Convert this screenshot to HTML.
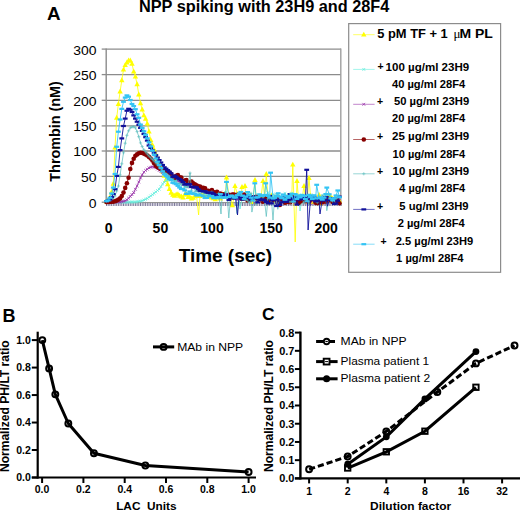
<!DOCTYPE html>
<html><head><meta charset="utf-8"><style>
html,body{margin:0;padding:0;background:#fff;}
svg{display:block;font-family:"Liberation Sans", sans-serif;}
</style></head><body>
<svg width="520" height="511" viewBox="0 0 520 511">
<rect width="520" height="511" fill="#fff"/>
<text x="47.00" y="19.80" font-size="18" font-weight="bold" text-anchor="start" fill="#000" textLength="13.60" lengthAdjust="spacingAndGlyphs" >A</text>
<text x="139.00" y="11.60" font-size="16" font-weight="bold" text-anchor="start" fill="#000" textLength="250.30" lengthAdjust="spacingAndGlyphs" >NPP spiking with 23H9 and 28F4</text>
<line x1="106.00" y1="49.10" x2="341.00" y2="49.10" stroke="#8c8c8c" stroke-width="1.3" />
<line x1="101.70" y1="49.10" x2="106.00" y2="49.10" stroke="#8c8c8c" stroke-width="1.3" />
<text x="96.60" y="54.50" font-size="13.5" font-weight="normal" text-anchor="end" fill="#000" textLength="23.25" lengthAdjust="spacingAndGlyphs" >300</text>
<line x1="106.00" y1="74.60" x2="341.00" y2="74.60" stroke="#8c8c8c" stroke-width="1.3" />
<line x1="101.70" y1="74.60" x2="106.00" y2="74.60" stroke="#8c8c8c" stroke-width="1.3" />
<text x="96.60" y="80.00" font-size="13.5" font-weight="normal" text-anchor="end" fill="#000" textLength="23.25" lengthAdjust="spacingAndGlyphs" >250</text>
<line x1="106.00" y1="100.30" x2="341.00" y2="100.30" stroke="#8c8c8c" stroke-width="1.3" />
<line x1="101.70" y1="100.30" x2="106.00" y2="100.30" stroke="#8c8c8c" stroke-width="1.3" />
<text x="96.60" y="105.70" font-size="13.5" font-weight="normal" text-anchor="end" fill="#000" textLength="23.25" lengthAdjust="spacingAndGlyphs" >200</text>
<line x1="106.00" y1="125.90" x2="341.00" y2="125.90" stroke="#8c8c8c" stroke-width="1.3" />
<line x1="101.70" y1="125.90" x2="106.00" y2="125.90" stroke="#8c8c8c" stroke-width="1.3" />
<text x="96.60" y="131.30" font-size="13.5" font-weight="normal" text-anchor="end" fill="#000" textLength="23.25" lengthAdjust="spacingAndGlyphs" >150</text>
<line x1="106.00" y1="151.00" x2="341.00" y2="151.00" stroke="#8c8c8c" stroke-width="1.3" />
<line x1="101.70" y1="151.00" x2="106.00" y2="151.00" stroke="#8c8c8c" stroke-width="1.3" />
<text x="96.60" y="156.40" font-size="13.5" font-weight="normal" text-anchor="end" fill="#000" textLength="23.25" lengthAdjust="spacingAndGlyphs" >100</text>
<line x1="106.00" y1="176.40" x2="341.00" y2="176.40" stroke="#8c8c8c" stroke-width="1.3" />
<line x1="101.70" y1="176.40" x2="106.00" y2="176.40" stroke="#8c8c8c" stroke-width="1.3" />
<text x="96.60" y="181.80" font-size="13.5" font-weight="normal" text-anchor="end" fill="#000" textLength="15.50" lengthAdjust="spacingAndGlyphs" >50</text>
<line x1="101.70" y1="202.20" x2="106.00" y2="202.20" stroke="#8c8c8c" stroke-width="1.3" />
<text x="96.60" y="207.60" font-size="13.5" font-weight="normal" text-anchor="end" fill="#000" textLength="7.75" lengthAdjust="spacingAndGlyphs" >0</text>
<line x1="106.20" y1="48.40" x2="106.20" y2="203.50" stroke="#8c8c8c" stroke-width="1.4" />
<line x1="340.80" y1="48.40" x2="340.80" y2="205.80" stroke="#a0a0a0" stroke-width="1.4" />
<text x="60.00" y="131.40" font-size="14" font-weight="bold" text-anchor="middle" fill="#000" textLength="100.50" lengthAdjust="spacingAndGlyphs" transform="rotate(-90 60.00 131.40)" >Thrombin (nM)</text>
<text x="108.70" y="232.90" font-size="14" font-weight="bold" text-anchor="middle" fill="#000" >0</text>
<text x="160.40" y="232.90" font-size="14" font-weight="bold" text-anchor="middle" fill="#000" >50</text>
<text x="212.00" y="232.90" font-size="14" font-weight="bold" text-anchor="middle" fill="#000" >100</text>
<text x="271.20" y="232.90" font-size="14" font-weight="bold" text-anchor="middle" fill="#000" >150</text>
<text x="326.20" y="232.90" font-size="14" font-weight="bold" text-anchor="middle" fill="#000" >200</text>
<text x="225.40" y="261.60" font-size="17.5" font-weight="bold" text-anchor="middle" fill="#000" textLength="93.50" lengthAdjust="spacingAndGlyphs" >Time (sec)</text>
<path d="M106.5 202.6v3.4 M108.2 202.6v3.4 M109.9 202.6v3.4 M111.6 202.6v3.4 M113.3 202.6v3.4 M115.0 202.6v3.4 M116.7 202.6v3.4 M118.4 202.6v3.4 M120.1 202.6v3.4 M121.8 202.6v3.4 M123.5 202.6v3.4 M125.2 202.6v3.4 M126.9 202.6v3.4 M128.6 202.6v3.4 M130.3 202.6v3.4 M132.0 202.6v3.4 M133.7 202.6v3.4 M135.4 202.6v3.4 M137.1 202.6v3.4 M138.8 202.6v3.4 M140.5 202.6v3.4 M142.2 202.6v3.4 M143.9 202.6v3.4 M145.6 202.6v3.4 M147.3 202.6v3.4 M149.0 202.6v3.4 M150.7 202.6v3.4 M152.4 202.6v3.4 M154.1 202.6v3.4 M155.8 202.6v3.4 M157.5 202.6v3.4 M159.2 202.6v3.4 M160.9 202.6v3.4 M162.6 202.6v3.4 M164.3 202.6v3.4 M166.0 202.6v3.4 M167.7 202.6v3.4 M169.4 202.6v3.4 M171.1 202.6v3.4 M172.8 202.6v3.4 M174.5 202.6v3.4 M176.2 202.6v3.4 M177.9 202.6v3.4 M179.6 202.6v3.4 M181.3 202.6v3.4 M183.0 202.6v3.4 M184.7 202.6v3.4 M186.4 202.6v3.4 M188.1 202.6v3.4 M189.8 202.6v3.4 M191.5 202.6v3.4 M193.2 202.6v3.4 M194.9 202.6v3.4 M196.6 202.6v3.4 M198.3 202.6v3.4 M200.0 202.6v3.4 M201.7 202.6v3.4 M203.4 202.6v3.4 M205.1 202.6v3.4 M206.8 202.6v3.4 M208.5 202.6v3.4 M210.2 202.6v3.4 M211.9 202.6v3.4 M213.6 202.6v3.4 M215.3 202.6v3.4 M217.0 202.6v3.4 M218.7 202.6v3.4 M220.4 202.6v3.4 M222.1 202.6v3.4 M223.8 202.6v3.4 M225.5 202.6v3.4 M227.2 202.6v3.4 M228.9 202.6v3.4 M230.6 202.6v3.4 M232.3 202.6v3.4 M234.0 202.6v3.4 M235.7 202.6v3.4 M237.4 202.6v3.4 M239.1 202.6v3.4 M240.8 202.6v3.4 M242.5 202.6v3.4 M244.2 202.6v3.4 M245.9 202.6v3.4 M247.6 202.6v3.4 M249.3 202.6v3.4 M251.0 202.6v3.4 M252.7 202.6v3.4 M254.4 202.6v3.4 M256.1 202.6v3.4 M257.8 202.6v3.4 M259.5 202.6v3.4 M261.2 202.6v3.4 M262.9 202.6v3.4 M264.6 202.6v3.4 M266.3 202.6v3.4 M268.0 202.6v3.4 M269.7 202.6v3.4 M271.4 202.6v3.4 M273.1 202.6v3.4 M274.8 202.6v3.4 M276.5 202.6v3.4 M278.2 202.6v3.4 M279.9 202.6v3.4 M281.6 202.6v3.4 M283.3 202.6v3.4 M285.0 202.6v3.4 M286.7 202.6v3.4 M288.4 202.6v3.4 M290.1 202.6v3.4 M291.8 202.6v3.4 M293.5 202.6v3.4 M295.2 202.6v3.4 M296.9 202.6v3.4 M298.6 202.6v3.4 M300.3 202.6v3.4 M302.0 202.6v3.4 M303.7 202.6v3.4 M305.4 202.6v3.4 M307.1 202.6v3.4 M308.8 202.6v3.4 M310.5 202.6v3.4 M312.2 202.6v3.4 M313.9 202.6v3.4 M315.6 202.6v3.4 M317.3 202.6v3.4 M319.0 202.6v3.4 M320.7 202.6v3.4 M322.4 202.6v3.4 M324.1 202.6v3.4 M325.8 202.6v3.4 M327.5 202.6v3.4 M329.2 202.6v3.4 M330.9 202.6v3.4 M332.6 202.6v3.4 M334.3 202.6v3.4 M336.0 202.6v3.4 M337.7 202.6v3.4 M339.4 202.6v3.4 M341.1 202.6v3.4" stroke="#7e7a9c" stroke-width="1"/>
<line x1="106.00" y1="202.60" x2="341.00" y2="202.60" stroke="#8c8c8c" stroke-width="1.0" />
<polyline points="106.5,201.5 108.2,200.6 109.9,197.2 111.6,191.9 113.3,183.8 115.0,147.6 116.7,117.8 118.4,104.0 120.1,91.5 121.8,80.3 123.5,69.7 125.2,65.2 126.9,62.5 128.6,60.6 130.3,60.5 132.0,63.8 133.7,71.5 135.4,76.7 137.1,84.3 138.8,94.5 140.5,103.3 142.2,109.5 143.9,115.4 145.6,118.8 147.3,123.7 149.0,131.6 150.7,140.0 152.4,144.9 154.1,149.5 155.8,154.1 157.5,158.5 159.2,162.9 160.9,167.3 162.6,171.5 164.3,175.8 166.0,180.0 167.7,184.3 169.4,189.1 171.1,192.8 172.8,194.8 174.5,195.8 176.2,194.6 177.9,194.2 179.6,195.8 181.3,196.6 183.0,197.5 184.7,194.5 186.4,194.4 188.1,197.2 189.8,197.0 191.5,198.6 193.2,197.9 194.9,196.3 196.6,196.1 198.6,215.0 200.0,196.1 201.7,195.3 203.4,194.7 205.1,196.9 206.8,197.1 208.5,196.2 210.2,196.8 211.9,197.5 213.6,198.4 215.3,199.3 217.0,197.5 218.7,193.4 220.4,198.7 222.1,194.1 223.8,196.9 225.5,194.0 226.5,177.6 228.9,195.6 230.6,198.0 232.3,205.4 234.0,197.4 235.0,186.0 237.4,194.3 239.1,196.8 240.8,199.1 242.0,187.0 245.0,186.0 245.9,197.7 247.6,195.1 249.3,198.9 251.0,195.6 252.7,202.0 255.0,180.0 256.1,199.1 257.8,197.5 259.5,199.8 261.2,196.1 263.0,181.0 264.6,197.2 266.3,174.0 268.0,199.0 269.7,197.8 271.4,195.6 273.1,199.3 274.8,198.6 276.5,201.4 278.2,196.6 279.9,198.8 281.6,198.7 283.3,198.2 285.0,198.0 286.7,197.9 288.4,196.1 290.1,195.1 291.8,196.5 292.8,164.7 295.2,242.0 297.0,181.0 298.6,200.0 300.3,199.4 302.0,199.2 304.0,186.0 305.4,199.4 307.1,201.8 309.0,178.0 310.5,195.8 312.2,202.2 313.9,198.1 315.6,199.8 317.3,199.6 319.0,194.8 320.7,203.3 322.4,201.8 324.1,197.9 325.8,199.3 327.5,197.8 329.2,195.4 330.9,197.2 332.6,198.4 334.3,200.2 336.0,199.2 337.7,197.6 339.4,200.8" fill="none" stroke="#ffff00" stroke-width="0.8" stroke-linejoin="round"/>
<path d="M106.5 198.5L109.2 203.4L103.8 203.4Z" fill="#ffff00"/>
<path d="M108.2 197.6L110.9 202.5L105.5 202.5Z" fill="#ffff00"/>
<path d="M109.9 194.2L112.6 199.1L107.2 199.1Z" fill="#ffff00"/>
<path d="M111.6 188.9L114.3 193.8L108.9 193.8Z" fill="#ffff00"/>
<path d="M113.3 180.8L116.0 185.7L110.6 185.7Z" fill="#ffff00"/>
<path d="M115.0 144.6L117.7 149.5L112.3 149.5Z" fill="#ffff00"/>
<path d="M116.7 114.8L119.4 119.7L114.0 119.7Z" fill="#ffff00"/>
<path d="M118.4 101.0L121.1 105.9L115.7 105.9Z" fill="#ffff00"/>
<path d="M120.1 88.5L122.8 93.4L117.4 93.4Z" fill="#ffff00"/>
<path d="M121.8 77.3L124.5 82.2L119.1 82.2Z" fill="#ffff00"/>
<path d="M123.5 66.7L126.2 71.6L120.8 71.6Z" fill="#ffff00"/>
<path d="M125.2 62.2L127.9 67.1L122.5 67.1Z" fill="#ffff00"/>
<path d="M126.9 59.5L129.6 64.4L124.2 64.4Z" fill="#ffff00"/>
<path d="M128.6 57.6L131.3 62.5L125.9 62.5Z" fill="#ffff00"/>
<path d="M130.3 57.5L133.0 62.4L127.6 62.4Z" fill="#ffff00"/>
<path d="M132.0 60.8L134.7 65.7L129.3 65.7Z" fill="#ffff00"/>
<path d="M133.7 68.5L136.4 73.4L131.0 73.4Z" fill="#ffff00"/>
<path d="M135.4 73.7L138.1 78.6L132.7 78.6Z" fill="#ffff00"/>
<path d="M137.1 81.3L139.8 86.2L134.4 86.2Z" fill="#ffff00"/>
<path d="M138.8 91.5L141.5 96.4L136.1 96.4Z" fill="#ffff00"/>
<path d="M140.5 100.3L143.2 105.2L137.8 105.2Z" fill="#ffff00"/>
<path d="M142.2 106.5L144.9 111.4L139.5 111.4Z" fill="#ffff00"/>
<path d="M143.9 112.4L146.6 117.3L141.2 117.3Z" fill="#ffff00"/>
<path d="M145.6 115.8L148.3 120.7L142.9 120.7Z" fill="#ffff00"/>
<path d="M147.3 120.7L150.0 125.6L144.6 125.6Z" fill="#ffff00"/>
<path d="M149.0 128.6L151.7 133.5L146.3 133.5Z" fill="#ffff00"/>
<path d="M150.7 137.0L153.4 141.9L148.0 141.9Z" fill="#ffff00"/>
<path d="M152.4 141.9L155.1 146.8L149.7 146.8Z" fill="#ffff00"/>
<path d="M154.1 146.5L156.8 151.4L151.4 151.4Z" fill="#ffff00"/>
<path d="M155.8 151.1L158.5 156.0L153.1 156.0Z" fill="#ffff00"/>
<path d="M157.5 155.5L160.2 160.4L154.8 160.4Z" fill="#ffff00"/>
<path d="M159.2 159.9L161.9 164.8L156.5 164.8Z" fill="#ffff00"/>
<path d="M160.9 164.3L163.6 169.2L158.2 169.2Z" fill="#ffff00"/>
<path d="M162.6 168.5L165.3 173.4L159.9 173.4Z" fill="#ffff00"/>
<path d="M164.3 172.8L167.0 177.7L161.6 177.7Z" fill="#ffff00"/>
<path d="M166.0 177.0L168.7 181.9L163.3 181.9Z" fill="#ffff00"/>
<path d="M167.7 181.3L170.4 186.2L165.0 186.2Z" fill="#ffff00"/>
<path d="M169.4 186.1L172.1 191.0L166.7 191.0Z" fill="#ffff00"/>
<path d="M171.1 189.8L173.8 194.7L168.4 194.7Z" fill="#ffff00"/>
<path d="M172.8 191.8L175.5 196.7L170.1 196.7Z" fill="#ffff00"/>
<path d="M174.5 192.8L177.2 197.7L171.8 197.7Z" fill="#ffff00"/>
<path d="M176.2 191.6L178.9 196.5L173.5 196.5Z" fill="#ffff00"/>
<path d="M177.9 191.2L180.6 196.1L175.2 196.1Z" fill="#ffff00"/>
<path d="M179.6 192.8L182.3 197.7L176.9 197.7Z" fill="#ffff00"/>
<path d="M181.3 193.6L184.0 198.5L178.6 198.5Z" fill="#ffff00"/>
<path d="M183.0 194.5L185.7 199.4L180.3 199.4Z" fill="#ffff00"/>
<path d="M184.7 191.5L187.4 196.4L182.0 196.4Z" fill="#ffff00"/>
<path d="M186.4 191.4L189.1 196.3L183.7 196.3Z" fill="#ffff00"/>
<path d="M188.1 194.2L190.8 199.1L185.4 199.1Z" fill="#ffff00"/>
<path d="M189.8 194.0L192.5 198.9L187.1 198.9Z" fill="#ffff00"/>
<path d="M191.5 195.6L194.2 200.5L188.8 200.5Z" fill="#ffff00"/>
<path d="M193.2 194.9L195.9 199.8L190.5 199.8Z" fill="#ffff00"/>
<path d="M194.9 193.3L197.6 198.2L192.2 198.2Z" fill="#ffff00"/>
<path d="M196.6 193.1L199.3 198.0L193.9 198.0Z" fill="#ffff00"/>
<path d="M200.0 193.1L202.7 198.0L197.3 198.0Z" fill="#ffff00"/>
<path d="M201.7 192.3L204.4 197.2L199.0 197.2Z" fill="#ffff00"/>
<path d="M203.4 191.7L206.1 196.6L200.7 196.6Z" fill="#ffff00"/>
<path d="M205.1 193.9L207.8 198.8L202.4 198.8Z" fill="#ffff00"/>
<path d="M206.8 194.1L209.5 199.0L204.1 199.0Z" fill="#ffff00"/>
<path d="M208.5 193.2L211.2 198.1L205.8 198.1Z" fill="#ffff00"/>
<path d="M210.2 193.8L212.9 198.7L207.5 198.7Z" fill="#ffff00"/>
<path d="M211.9 194.5L214.6 199.4L209.2 199.4Z" fill="#ffff00"/>
<path d="M213.6 195.4L216.3 200.3L210.9 200.3Z" fill="#ffff00"/>
<path d="M215.3 196.3L218.0 201.2L212.6 201.2Z" fill="#ffff00"/>
<path d="M217.0 194.5L219.7 199.4L214.3 199.4Z" fill="#ffff00"/>
<path d="M218.7 190.4L221.4 195.3L216.0 195.3Z" fill="#ffff00"/>
<path d="M220.4 195.7L223.1 200.6L217.7 200.6Z" fill="#ffff00"/>
<path d="M222.1 191.1L224.8 196.0L219.4 196.0Z" fill="#ffff00"/>
<path d="M223.8 193.9L226.5 198.8L221.1 198.8Z" fill="#ffff00"/>
<path d="M225.5 191.0L228.2 195.9L222.8 195.9Z" fill="#ffff00"/>
<path d="M226.5 174.6L229.2 179.5L223.8 179.5Z" fill="#ffff00"/>
<path d="M228.9 192.6L231.6 197.5L226.2 197.5Z" fill="#ffff00"/>
<path d="M230.6 195.0L233.3 199.9L227.9 199.9Z" fill="#ffff00"/>
<path d="M232.3 202.4L235.0 207.3L229.6 207.3Z" fill="#ffff00"/>
<path d="M234.0 194.4L236.7 199.3L231.3 199.3Z" fill="#ffff00"/>
<path d="M235.0 183.0L237.7 187.9L232.3 187.9Z" fill="#ffff00"/>
<path d="M237.4 191.3L240.1 196.2L234.7 196.2Z" fill="#ffff00"/>
<path d="M239.1 193.8L241.8 198.7L236.4 198.7Z" fill="#ffff00"/>
<path d="M240.8 196.1L243.5 201.0L238.1 201.0Z" fill="#ffff00"/>
<path d="M242.0 184.0L244.7 188.9L239.3 188.9Z" fill="#ffff00"/>
<path d="M245.0 183.0L247.7 187.9L242.3 187.9Z" fill="#ffff00"/>
<path d="M245.9 194.7L248.6 199.6L243.2 199.6Z" fill="#ffff00"/>
<path d="M247.6 192.1L250.3 197.0L244.9 197.0Z" fill="#ffff00"/>
<path d="M249.3 195.9L252.0 200.8L246.6 200.8Z" fill="#ffff00"/>
<path d="M251.0 192.6L253.7 197.5L248.3 197.5Z" fill="#ffff00"/>
<path d="M252.7 199.0L255.4 203.9L250.0 203.9Z" fill="#ffff00"/>
<path d="M255.0 177.0L257.7 181.9L252.3 181.9Z" fill="#ffff00"/>
<path d="M256.1 196.1L258.8 201.0L253.4 201.0Z" fill="#ffff00"/>
<path d="M257.8 194.5L260.5 199.4L255.1 199.4Z" fill="#ffff00"/>
<path d="M259.5 196.8L262.2 201.7L256.8 201.7Z" fill="#ffff00"/>
<path d="M261.2 193.1L263.9 198.0L258.5 198.0Z" fill="#ffff00"/>
<path d="M263.0 178.0L265.7 182.9L260.3 182.9Z" fill="#ffff00"/>
<path d="M264.6 194.2L267.3 199.1L261.9 199.1Z" fill="#ffff00"/>
<path d="M266.3 171.0L269.0 175.9L263.6 175.9Z" fill="#ffff00"/>
<path d="M268.0 196.0L270.7 200.9L265.3 200.9Z" fill="#ffff00"/>
<path d="M269.7 194.8L272.4 199.7L267.0 199.7Z" fill="#ffff00"/>
<path d="M271.4 192.6L274.1 197.5L268.7 197.5Z" fill="#ffff00"/>
<path d="M273.1 196.3L275.8 201.2L270.4 201.2Z" fill="#ffff00"/>
<path d="M274.8 195.6L277.5 200.5L272.1 200.5Z" fill="#ffff00"/>
<path d="M276.5 198.4L279.2 203.3L273.8 203.3Z" fill="#ffff00"/>
<path d="M278.2 193.6L280.9 198.5L275.5 198.5Z" fill="#ffff00"/>
<path d="M279.9 195.8L282.6 200.7L277.2 200.7Z" fill="#ffff00"/>
<path d="M281.6 195.7L284.3 200.6L278.9 200.6Z" fill="#ffff00"/>
<path d="M283.3 195.2L286.0 200.1L280.6 200.1Z" fill="#ffff00"/>
<path d="M285.0 195.0L287.7 199.9L282.3 199.9Z" fill="#ffff00"/>
<path d="M286.7 194.9L289.4 199.8L284.0 199.8Z" fill="#ffff00"/>
<path d="M288.4 193.1L291.1 198.0L285.7 198.0Z" fill="#ffff00"/>
<path d="M290.1 192.1L292.8 197.0L287.4 197.0Z" fill="#ffff00"/>
<path d="M291.8 193.5L294.5 198.4L289.1 198.4Z" fill="#ffff00"/>
<path d="M292.8 161.7L295.5 166.6L290.1 166.6Z" fill="#ffff00"/>
<path d="M297.0 178.0L299.7 182.9L294.3 182.9Z" fill="#ffff00"/>
<path d="M298.6 197.0L301.3 201.9L295.9 201.9Z" fill="#ffff00"/>
<path d="M300.3 196.4L303.0 201.3L297.6 201.3Z" fill="#ffff00"/>
<path d="M302.0 196.2L304.7 201.1L299.3 201.1Z" fill="#ffff00"/>
<path d="M304.0 183.0L306.7 187.9L301.3 187.9Z" fill="#ffff00"/>
<path d="M305.4 196.4L308.1 201.3L302.7 201.3Z" fill="#ffff00"/>
<path d="M307.1 198.8L309.8 203.7L304.4 203.7Z" fill="#ffff00"/>
<path d="M309.0 175.0L311.7 179.9L306.3 179.9Z" fill="#ffff00"/>
<path d="M310.5 192.8L313.2 197.7L307.8 197.7Z" fill="#ffff00"/>
<path d="M312.2 199.2L314.9 204.1L309.5 204.1Z" fill="#ffff00"/>
<path d="M313.9 195.1L316.6 200.0L311.2 200.0Z" fill="#ffff00"/>
<path d="M315.6 196.8L318.3 201.7L312.9 201.7Z" fill="#ffff00"/>
<path d="M317.3 196.6L320.0 201.5L314.6 201.5Z" fill="#ffff00"/>
<path d="M319.0 191.8L321.7 196.7L316.3 196.7Z" fill="#ffff00"/>
<path d="M320.7 200.3L323.4 205.2L318.0 205.2Z" fill="#ffff00"/>
<path d="M322.4 198.8L325.1 203.7L319.7 203.7Z" fill="#ffff00"/>
<path d="M324.1 194.9L326.8 199.8L321.4 199.8Z" fill="#ffff00"/>
<path d="M325.8 196.3L328.5 201.2L323.1 201.2Z" fill="#ffff00"/>
<path d="M327.5 194.8L330.2 199.7L324.8 199.7Z" fill="#ffff00"/>
<path d="M329.2 192.4L331.9 197.3L326.5 197.3Z" fill="#ffff00"/>
<path d="M330.9 194.2L333.6 199.1L328.2 199.1Z" fill="#ffff00"/>
<path d="M332.6 195.4L335.3 200.3L329.9 200.3Z" fill="#ffff00"/>
<path d="M334.3 197.2L337.0 202.1L331.6 202.1Z" fill="#ffff00"/>
<path d="M336.0 196.2L338.7 201.1L333.3 201.1Z" fill="#ffff00"/>
<path d="M337.7 194.6L340.4 199.5L335.0 199.5Z" fill="#ffff00"/>
<path d="M339.4 197.8L342.1 202.7L336.7 202.7Z" fill="#ffff00"/>
<polyline points="106.5,202.3 108.2,202.3 109.9,202.2 111.6,202.2 113.3,202.2 115.0,202.2 116.7,202.2 118.4,202.2 120.1,202.1 121.8,202.1 123.5,202.1 125.2,202.1 126.9,202.1 128.6,202.1 130.3,202.0 132.0,202.0 133.7,202.0 135.4,201.9 137.1,201.7 138.8,201.4 140.5,201.2 142.2,200.7 143.9,200.0 145.6,199.3 147.3,198.5 149.0,197.2 150.7,195.9 152.4,194.6 154.1,193.3 155.8,191.9 157.5,190.5 159.2,189.2 160.9,186.6 162.6,183.9 164.3,182.2 166.0,180.5 167.7,179.9 169.4,179.2 171.1,178.5 172.8,180.4 174.5,181.0 176.2,180.2 177.9,179.5 179.6,181.2 181.3,183.1 183.0,184.1 184.7,185.9 186.4,184.0 188.1,185.6 189.8,186.9 191.5,186.7 193.2,185.1 194.9,188.9 196.6,191.1 198.3,190.4 200.0,189.1 201.7,190.0 203.4,191.1 205.1,193.8 206.8,192.4 208.5,192.4 210.2,194.3 211.9,193.1 213.6,195.5 215.3,193.3 217.0,193.6 218.7,195.0 220.4,196.0 222.1,195.2 223.8,195.0 225.5,192.5 227.2,194.0 228.9,194.2 230.6,194.4 232.3,196.0 234.0,194.9 235.7,196.6 237.4,195.7 239.1,195.2 240.0,209.0 242.5,196.6 244.2,197.4 245.9,195.4 247.6,195.9 249.3,194.1 251.0,199.3 252.7,199.2 254.4,196.4 256.1,196.0 257.8,194.7 259.5,197.4 261.2,197.6 262.9,201.6 264.6,198.0 266.3,195.9 268.0,192.6 269.7,200.3 271.4,197.9 273.1,194.3 274.8,197.9 276.5,194.3 278.2,204.5 279.9,199.7 281.6,198.6 283.3,197.1 285.0,193.2 286.7,197.2 288.4,194.4 290.1,198.7 291.8,193.2 293.5,195.7 295.2,199.9 296.9,200.8 298.6,195.1 300.0,211.0 302.0,199.3 303.7,199.2 305.4,195.5 307.1,196.1 308.8,196.1 310.5,195.1 312.2,196.1 313.9,200.0 315.6,198.9 317.3,201.6 319.0,197.3 320.7,197.2 322.4,195.5 324.1,197.3 325.8,194.9 327.5,193.9 329.2,198.9 330.9,200.4 332.6,199.2 334.3,200.2 336.0,198.0 337.7,196.1 339.4,197.7" fill="none" stroke="#66eedd" stroke-width="0.8" stroke-linejoin="round"/>
<path d="M105.1 200.9l2.8 2.8M105.1 203.7l2.8 -2.8" stroke="#66eedd" stroke-width="0.8"/>
<path d="M106.8 200.9l2.8 2.8M106.8 203.7l2.8 -2.8" stroke="#66eedd" stroke-width="0.8"/>
<path d="M108.5 200.8l2.8 2.8M108.5 203.6l2.8 -2.8" stroke="#66eedd" stroke-width="0.8"/>
<path d="M110.2 200.8l2.8 2.8M110.2 203.6l2.8 -2.8" stroke="#66eedd" stroke-width="0.8"/>
<path d="M111.9 200.8l2.8 2.8M111.9 203.6l2.8 -2.8" stroke="#66eedd" stroke-width="0.8"/>
<path d="M113.6 200.8l2.8 2.8M113.6 203.6l2.8 -2.8" stroke="#66eedd" stroke-width="0.8"/>
<path d="M115.3 200.8l2.8 2.8M115.3 203.6l2.8 -2.8" stroke="#66eedd" stroke-width="0.8"/>
<path d="M117.0 200.8l2.8 2.8M117.0 203.6l2.8 -2.8" stroke="#66eedd" stroke-width="0.8"/>
<path d="M118.7 200.7l2.8 2.8M118.7 203.5l2.8 -2.8" stroke="#66eedd" stroke-width="0.8"/>
<path d="M120.4 200.7l2.8 2.8M120.4 203.5l2.8 -2.8" stroke="#66eedd" stroke-width="0.8"/>
<path d="M122.1 200.7l2.8 2.8M122.1 203.5l2.8 -2.8" stroke="#66eedd" stroke-width="0.8"/>
<path d="M123.8 200.7l2.8 2.8M123.8 203.5l2.8 -2.8" stroke="#66eedd" stroke-width="0.8"/>
<path d="M125.5 200.7l2.8 2.8M125.5 203.5l2.8 -2.8" stroke="#66eedd" stroke-width="0.8"/>
<path d="M127.2 200.7l2.8 2.8M127.2 203.5l2.8 -2.8" stroke="#66eedd" stroke-width="0.8"/>
<path d="M128.9 200.6l2.8 2.8M128.9 203.4l2.8 -2.8" stroke="#66eedd" stroke-width="0.8"/>
<path d="M130.6 200.6l2.8 2.8M130.6 203.4l2.8 -2.8" stroke="#66eedd" stroke-width="0.8"/>
<path d="M132.3 200.6l2.8 2.8M132.3 203.4l2.8 -2.8" stroke="#66eedd" stroke-width="0.8"/>
<path d="M134.0 200.5l2.8 2.8M134.0 203.3l2.8 -2.8" stroke="#66eedd" stroke-width="0.8"/>
<path d="M135.7 200.3l2.8 2.8M135.7 203.1l2.8 -2.8" stroke="#66eedd" stroke-width="0.8"/>
<path d="M137.4 200.0l2.8 2.8M137.4 202.8l2.8 -2.8" stroke="#66eedd" stroke-width="0.8"/>
<path d="M139.1 199.8l2.8 2.8M139.1 202.6l2.8 -2.8" stroke="#66eedd" stroke-width="0.8"/>
<path d="M140.8 199.3l2.8 2.8M140.8 202.1l2.8 -2.8" stroke="#66eedd" stroke-width="0.8"/>
<path d="M142.5 198.6l2.8 2.8M142.5 201.4l2.8 -2.8" stroke="#66eedd" stroke-width="0.8"/>
<path d="M144.2 197.9l2.8 2.8M144.2 200.7l2.8 -2.8" stroke="#66eedd" stroke-width="0.8"/>
<path d="M145.9 197.1l2.8 2.8M145.9 199.9l2.8 -2.8" stroke="#66eedd" stroke-width="0.8"/>
<path d="M147.6 195.8l2.8 2.8M147.6 198.6l2.8 -2.8" stroke="#66eedd" stroke-width="0.8"/>
<path d="M149.3 194.5l2.8 2.8M149.3 197.3l2.8 -2.8" stroke="#66eedd" stroke-width="0.8"/>
<path d="M151.0 193.2l2.8 2.8M151.0 196.0l2.8 -2.8" stroke="#66eedd" stroke-width="0.8"/>
<path d="M152.7 191.9l2.8 2.8M152.7 194.7l2.8 -2.8" stroke="#66eedd" stroke-width="0.8"/>
<path d="M154.4 190.5l2.8 2.8M154.4 193.3l2.8 -2.8" stroke="#66eedd" stroke-width="0.8"/>
<path d="M156.1 189.1l2.8 2.8M156.1 191.9l2.8 -2.8" stroke="#66eedd" stroke-width="0.8"/>
<path d="M157.8 187.8l2.8 2.8M157.8 190.6l2.8 -2.8" stroke="#66eedd" stroke-width="0.8"/>
<path d="M159.5 185.2l2.8 2.8M159.5 188.0l2.8 -2.8" stroke="#66eedd" stroke-width="0.8"/>
<path d="M161.2 182.5l2.8 2.8M161.2 185.3l2.8 -2.8" stroke="#66eedd" stroke-width="0.8"/>
<path d="M162.9 180.8l2.8 2.8M162.9 183.6l2.8 -2.8" stroke="#66eedd" stroke-width="0.8"/>
<path d="M164.6 179.1l2.8 2.8M164.6 181.9l2.8 -2.8" stroke="#66eedd" stroke-width="0.8"/>
<path d="M166.3 178.5l2.8 2.8M166.3 181.3l2.8 -2.8" stroke="#66eedd" stroke-width="0.8"/>
<path d="M168.0 177.8l2.8 2.8M168.0 180.6l2.8 -2.8" stroke="#66eedd" stroke-width="0.8"/>
<path d="M169.7 177.1l2.8 2.8M169.7 179.9l2.8 -2.8" stroke="#66eedd" stroke-width="0.8"/>
<path d="M171.4 179.0l2.8 2.8M171.4 181.8l2.8 -2.8" stroke="#66eedd" stroke-width="0.8"/>
<path d="M173.1 179.6l2.8 2.8M173.1 182.4l2.8 -2.8" stroke="#66eedd" stroke-width="0.8"/>
<path d="M174.8 178.8l2.8 2.8M174.8 181.6l2.8 -2.8" stroke="#66eedd" stroke-width="0.8"/>
<path d="M176.5 178.1l2.8 2.8M176.5 180.9l2.8 -2.8" stroke="#66eedd" stroke-width="0.8"/>
<path d="M178.2 179.8l2.8 2.8M178.2 182.6l2.8 -2.8" stroke="#66eedd" stroke-width="0.8"/>
<path d="M179.9 181.7l2.8 2.8M179.9 184.5l2.8 -2.8" stroke="#66eedd" stroke-width="0.8"/>
<path d="M181.6 182.7l2.8 2.8M181.6 185.5l2.8 -2.8" stroke="#66eedd" stroke-width="0.8"/>
<path d="M183.3 184.5l2.8 2.8M183.3 187.3l2.8 -2.8" stroke="#66eedd" stroke-width="0.8"/>
<path d="M185.0 182.6l2.8 2.8M185.0 185.4l2.8 -2.8" stroke="#66eedd" stroke-width="0.8"/>
<path d="M186.7 184.2l2.8 2.8M186.7 187.0l2.8 -2.8" stroke="#66eedd" stroke-width="0.8"/>
<path d="M188.4 185.5l2.8 2.8M188.4 188.3l2.8 -2.8" stroke="#66eedd" stroke-width="0.8"/>
<path d="M190.1 185.3l2.8 2.8M190.1 188.1l2.8 -2.8" stroke="#66eedd" stroke-width="0.8"/>
<path d="M191.8 183.7l2.8 2.8M191.8 186.5l2.8 -2.8" stroke="#66eedd" stroke-width="0.8"/>
<path d="M193.5 187.5l2.8 2.8M193.5 190.3l2.8 -2.8" stroke="#66eedd" stroke-width="0.8"/>
<path d="M195.2 189.7l2.8 2.8M195.2 192.5l2.8 -2.8" stroke="#66eedd" stroke-width="0.8"/>
<path d="M196.9 189.0l2.8 2.8M196.9 191.8l2.8 -2.8" stroke="#66eedd" stroke-width="0.8"/>
<path d="M198.6 187.7l2.8 2.8M198.6 190.5l2.8 -2.8" stroke="#66eedd" stroke-width="0.8"/>
<path d="M200.3 188.6l2.8 2.8M200.3 191.4l2.8 -2.8" stroke="#66eedd" stroke-width="0.8"/>
<path d="M202.0 189.7l2.8 2.8M202.0 192.5l2.8 -2.8" stroke="#66eedd" stroke-width="0.8"/>
<path d="M203.7 192.4l2.8 2.8M203.7 195.2l2.8 -2.8" stroke="#66eedd" stroke-width="0.8"/>
<path d="M205.4 191.0l2.8 2.8M205.4 193.8l2.8 -2.8" stroke="#66eedd" stroke-width="0.8"/>
<path d="M207.1 191.0l2.8 2.8M207.1 193.8l2.8 -2.8" stroke="#66eedd" stroke-width="0.8"/>
<path d="M208.8 192.9l2.8 2.8M208.8 195.7l2.8 -2.8" stroke="#66eedd" stroke-width="0.8"/>
<path d="M210.5 191.7l2.8 2.8M210.5 194.5l2.8 -2.8" stroke="#66eedd" stroke-width="0.8"/>
<path d="M212.2 194.1l2.8 2.8M212.2 196.9l2.8 -2.8" stroke="#66eedd" stroke-width="0.8"/>
<path d="M213.9 191.9l2.8 2.8M213.9 194.7l2.8 -2.8" stroke="#66eedd" stroke-width="0.8"/>
<path d="M215.6 192.2l2.8 2.8M215.6 195.0l2.8 -2.8" stroke="#66eedd" stroke-width="0.8"/>
<path d="M217.3 193.6l2.8 2.8M217.3 196.4l2.8 -2.8" stroke="#66eedd" stroke-width="0.8"/>
<path d="M219.0 194.6l2.8 2.8M219.0 197.4l2.8 -2.8" stroke="#66eedd" stroke-width="0.8"/>
<path d="M220.7 193.8l2.8 2.8M220.7 196.6l2.8 -2.8" stroke="#66eedd" stroke-width="0.8"/>
<path d="M222.4 193.6l2.8 2.8M222.4 196.4l2.8 -2.8" stroke="#66eedd" stroke-width="0.8"/>
<path d="M224.1 191.1l2.8 2.8M224.1 193.9l2.8 -2.8" stroke="#66eedd" stroke-width="0.8"/>
<path d="M225.8 192.6l2.8 2.8M225.8 195.4l2.8 -2.8" stroke="#66eedd" stroke-width="0.8"/>
<path d="M227.5 192.8l2.8 2.8M227.5 195.6l2.8 -2.8" stroke="#66eedd" stroke-width="0.8"/>
<path d="M229.2 193.0l2.8 2.8M229.2 195.8l2.8 -2.8" stroke="#66eedd" stroke-width="0.8"/>
<path d="M230.9 194.6l2.8 2.8M230.9 197.4l2.8 -2.8" stroke="#66eedd" stroke-width="0.8"/>
<path d="M232.6 193.5l2.8 2.8M232.6 196.3l2.8 -2.8" stroke="#66eedd" stroke-width="0.8"/>
<path d="M234.3 195.2l2.8 2.8M234.3 198.0l2.8 -2.8" stroke="#66eedd" stroke-width="0.8"/>
<path d="M236.0 194.3l2.8 2.8M236.0 197.1l2.8 -2.8" stroke="#66eedd" stroke-width="0.8"/>
<path d="M237.7 193.8l2.8 2.8M237.7 196.6l2.8 -2.8" stroke="#66eedd" stroke-width="0.8"/>
<path d="M241.1 195.2l2.8 2.8M241.1 198.0l2.8 -2.8" stroke="#66eedd" stroke-width="0.8"/>
<path d="M242.8 196.0l2.8 2.8M242.8 198.8l2.8 -2.8" stroke="#66eedd" stroke-width="0.8"/>
<path d="M244.5 194.0l2.8 2.8M244.5 196.8l2.8 -2.8" stroke="#66eedd" stroke-width="0.8"/>
<path d="M246.2 194.5l2.8 2.8M246.2 197.3l2.8 -2.8" stroke="#66eedd" stroke-width="0.8"/>
<path d="M247.9 192.7l2.8 2.8M247.9 195.5l2.8 -2.8" stroke="#66eedd" stroke-width="0.8"/>
<path d="M249.6 197.9l2.8 2.8M249.6 200.7l2.8 -2.8" stroke="#66eedd" stroke-width="0.8"/>
<path d="M251.3 197.8l2.8 2.8M251.3 200.6l2.8 -2.8" stroke="#66eedd" stroke-width="0.8"/>
<path d="M253.0 195.0l2.8 2.8M253.0 197.8l2.8 -2.8" stroke="#66eedd" stroke-width="0.8"/>
<path d="M254.7 194.6l2.8 2.8M254.7 197.4l2.8 -2.8" stroke="#66eedd" stroke-width="0.8"/>
<path d="M256.4 193.3l2.8 2.8M256.4 196.1l2.8 -2.8" stroke="#66eedd" stroke-width="0.8"/>
<path d="M258.1 196.0l2.8 2.8M258.1 198.8l2.8 -2.8" stroke="#66eedd" stroke-width="0.8"/>
<path d="M259.8 196.2l2.8 2.8M259.8 199.0l2.8 -2.8" stroke="#66eedd" stroke-width="0.8"/>
<path d="M261.5 200.2l2.8 2.8M261.5 203.0l2.8 -2.8" stroke="#66eedd" stroke-width="0.8"/>
<path d="M263.2 196.6l2.8 2.8M263.2 199.4l2.8 -2.8" stroke="#66eedd" stroke-width="0.8"/>
<path d="M264.9 194.5l2.8 2.8M264.9 197.3l2.8 -2.8" stroke="#66eedd" stroke-width="0.8"/>
<path d="M266.6 191.2l2.8 2.8M266.6 194.0l2.8 -2.8" stroke="#66eedd" stroke-width="0.8"/>
<path d="M268.3 198.9l2.8 2.8M268.3 201.7l2.8 -2.8" stroke="#66eedd" stroke-width="0.8"/>
<path d="M270.0 196.5l2.8 2.8M270.0 199.3l2.8 -2.8" stroke="#66eedd" stroke-width="0.8"/>
<path d="M271.7 192.9l2.8 2.8M271.7 195.7l2.8 -2.8" stroke="#66eedd" stroke-width="0.8"/>
<path d="M273.4 196.5l2.8 2.8M273.4 199.3l2.8 -2.8" stroke="#66eedd" stroke-width="0.8"/>
<path d="M275.1 192.9l2.8 2.8M275.1 195.7l2.8 -2.8" stroke="#66eedd" stroke-width="0.8"/>
<path d="M276.8 203.1l2.8 2.8M276.8 205.9l2.8 -2.8" stroke="#66eedd" stroke-width="0.8"/>
<path d="M278.5 198.3l2.8 2.8M278.5 201.1l2.8 -2.8" stroke="#66eedd" stroke-width="0.8"/>
<path d="M280.2 197.2l2.8 2.8M280.2 200.0l2.8 -2.8" stroke="#66eedd" stroke-width="0.8"/>
<path d="M281.9 195.7l2.8 2.8M281.9 198.5l2.8 -2.8" stroke="#66eedd" stroke-width="0.8"/>
<path d="M283.6 191.8l2.8 2.8M283.6 194.6l2.8 -2.8" stroke="#66eedd" stroke-width="0.8"/>
<path d="M285.3 195.8l2.8 2.8M285.3 198.6l2.8 -2.8" stroke="#66eedd" stroke-width="0.8"/>
<path d="M287.0 193.0l2.8 2.8M287.0 195.8l2.8 -2.8" stroke="#66eedd" stroke-width="0.8"/>
<path d="M288.7 197.3l2.8 2.8M288.7 200.1l2.8 -2.8" stroke="#66eedd" stroke-width="0.8"/>
<path d="M290.4 191.8l2.8 2.8M290.4 194.6l2.8 -2.8" stroke="#66eedd" stroke-width="0.8"/>
<path d="M292.1 194.3l2.8 2.8M292.1 197.1l2.8 -2.8" stroke="#66eedd" stroke-width="0.8"/>
<path d="M293.8 198.5l2.8 2.8M293.8 201.3l2.8 -2.8" stroke="#66eedd" stroke-width="0.8"/>
<path d="M295.5 199.4l2.8 2.8M295.5 202.2l2.8 -2.8" stroke="#66eedd" stroke-width="0.8"/>
<path d="M297.2 193.7l2.8 2.8M297.2 196.5l2.8 -2.8" stroke="#66eedd" stroke-width="0.8"/>
<path d="M300.6 197.9l2.8 2.8M300.6 200.7l2.8 -2.8" stroke="#66eedd" stroke-width="0.8"/>
<path d="M302.3 197.8l2.8 2.8M302.3 200.6l2.8 -2.8" stroke="#66eedd" stroke-width="0.8"/>
<path d="M304.0 194.1l2.8 2.8M304.0 196.9l2.8 -2.8" stroke="#66eedd" stroke-width="0.8"/>
<path d="M305.7 194.7l2.8 2.8M305.7 197.5l2.8 -2.8" stroke="#66eedd" stroke-width="0.8"/>
<path d="M307.4 194.7l2.8 2.8M307.4 197.5l2.8 -2.8" stroke="#66eedd" stroke-width="0.8"/>
<path d="M309.1 193.7l2.8 2.8M309.1 196.5l2.8 -2.8" stroke="#66eedd" stroke-width="0.8"/>
<path d="M310.8 194.7l2.8 2.8M310.8 197.5l2.8 -2.8" stroke="#66eedd" stroke-width="0.8"/>
<path d="M312.5 198.6l2.8 2.8M312.5 201.4l2.8 -2.8" stroke="#66eedd" stroke-width="0.8"/>
<path d="M314.2 197.5l2.8 2.8M314.2 200.3l2.8 -2.8" stroke="#66eedd" stroke-width="0.8"/>
<path d="M315.9 200.2l2.8 2.8M315.9 203.0l2.8 -2.8" stroke="#66eedd" stroke-width="0.8"/>
<path d="M317.6 195.9l2.8 2.8M317.6 198.7l2.8 -2.8" stroke="#66eedd" stroke-width="0.8"/>
<path d="M319.3 195.8l2.8 2.8M319.3 198.6l2.8 -2.8" stroke="#66eedd" stroke-width="0.8"/>
<path d="M321.0 194.1l2.8 2.8M321.0 196.9l2.8 -2.8" stroke="#66eedd" stroke-width="0.8"/>
<path d="M322.7 195.9l2.8 2.8M322.7 198.7l2.8 -2.8" stroke="#66eedd" stroke-width="0.8"/>
<path d="M324.4 193.5l2.8 2.8M324.4 196.3l2.8 -2.8" stroke="#66eedd" stroke-width="0.8"/>
<path d="M326.1 192.5l2.8 2.8M326.1 195.3l2.8 -2.8" stroke="#66eedd" stroke-width="0.8"/>
<path d="M327.8 197.5l2.8 2.8M327.8 200.3l2.8 -2.8" stroke="#66eedd" stroke-width="0.8"/>
<path d="M329.5 199.0l2.8 2.8M329.5 201.8l2.8 -2.8" stroke="#66eedd" stroke-width="0.8"/>
<path d="M331.2 197.8l2.8 2.8M331.2 200.6l2.8 -2.8" stroke="#66eedd" stroke-width="0.8"/>
<path d="M332.9 198.8l2.8 2.8M332.9 201.6l2.8 -2.8" stroke="#66eedd" stroke-width="0.8"/>
<path d="M334.6 196.6l2.8 2.8M334.6 199.4l2.8 -2.8" stroke="#66eedd" stroke-width="0.8"/>
<path d="M336.3 194.7l2.8 2.8M336.3 197.5l2.8 -2.8" stroke="#66eedd" stroke-width="0.8"/>
<path d="M338.0 196.3l2.8 2.8M338.0 199.1l2.8 -2.8" stroke="#66eedd" stroke-width="0.8"/>
<polyline points="106.5,202.3 108.2,202.2 109.9,202.2 111.6,202.2 113.3,202.1 115.0,202.1 116.7,202.1 118.4,202.0 120.1,202.0 121.8,201.6 123.5,201.2 125.2,200.8 126.9,199.8 128.6,198.2 130.3,196.5 132.0,194.6 133.7,192.6 135.4,189.3 137.1,185.9 138.8,182.0 140.5,178.0 142.2,174.9 143.9,172.1 145.6,170.4 147.3,169.2 149.0,167.9 150.7,167.3 152.4,166.8 154.1,167.2 155.8,167.8 157.5,169.0 159.2,170.4 160.9,171.5 162.6,172.6 164.3,173.6 166.0,174.6 167.7,175.6 169.4,176.6 171.1,177.2 172.8,177.3 174.5,177.6 176.2,178.6 177.9,180.9 179.6,182.0 181.3,182.0 183.0,184.6 184.7,184.1 186.4,185.1 188.1,186.5 189.8,185.1 191.5,184.6 193.2,188.0 194.9,187.3 196.6,189.8 198.3,189.4 200.0,190.7 201.7,191.0 203.4,188.7 205.1,192.1 206.8,191.3 208.5,191.7 210.2,192.6 211.9,194.0 213.6,194.4 215.3,194.9 217.0,192.4 218.7,193.8 220.4,192.1 222.1,194.8 223.8,195.9 225.5,194.6 227.2,196.0 228.9,196.3 230.6,197.6 232.3,195.5 234.0,195.7 235.7,196.1 237.4,199.8 239.1,199.2 240.8,197.7 242.5,198.5 244.2,198.6 245.9,199.1 247.6,198.7 249.3,198.8 251.0,197.5 252.7,198.8 254.4,202.9 256.1,201.3 257.8,200.8 259.5,200.5 261.2,201.1 262.9,201.6 264.6,199.8 266.3,201.4 268.0,201.4 269.7,199.7 271.4,199.6 273.1,199.2 274.8,199.1 276.5,202.6 278.2,196.8 279.9,200.5 281.6,199.9 283.3,199.9 285.0,201.2 286.7,203.0 288.4,201.1 290.1,200.7 291.8,199.9 293.5,200.8 295.2,202.6 296.9,200.3 298.6,198.9 300.3,198.7 302.0,199.0 303.7,198.5 305.4,203.0 307.1,201.6 308.8,200.6 310.5,203.6 312.2,199.8 313.9,202.4 315.6,202.4 317.3,198.2 319.0,198.2 320.7,199.3 322.4,202.6 324.1,203.3 325.8,198.8 327.5,202.9 329.2,200.3 330.9,200.3 332.6,200.0 334.3,200.4 336.0,197.7 337.7,199.2 339.4,198.8" fill="none" stroke="#9933aa" stroke-width="0.9" stroke-linejoin="round"/>
<path d="M105.1 200.9l2.8 2.8M105.1 203.7l2.8 -2.8" stroke="#9933aa" stroke-width="0.8"/>
<path d="M106.8 200.8l2.8 2.8M106.8 203.6l2.8 -2.8" stroke="#9933aa" stroke-width="0.8"/>
<path d="M108.5 200.8l2.8 2.8M108.5 203.6l2.8 -2.8" stroke="#9933aa" stroke-width="0.8"/>
<path d="M110.2 200.8l2.8 2.8M110.2 203.6l2.8 -2.8" stroke="#9933aa" stroke-width="0.8"/>
<path d="M111.9 200.7l2.8 2.8M111.9 203.5l2.8 -2.8" stroke="#9933aa" stroke-width="0.8"/>
<path d="M113.6 200.7l2.8 2.8M113.6 203.5l2.8 -2.8" stroke="#9933aa" stroke-width="0.8"/>
<path d="M115.3 200.7l2.8 2.8M115.3 203.5l2.8 -2.8" stroke="#9933aa" stroke-width="0.8"/>
<path d="M117.0 200.6l2.8 2.8M117.0 203.4l2.8 -2.8" stroke="#9933aa" stroke-width="0.8"/>
<path d="M118.7 200.6l2.8 2.8M118.7 203.4l2.8 -2.8" stroke="#9933aa" stroke-width="0.8"/>
<path d="M120.4 200.2l2.8 2.8M120.4 203.0l2.8 -2.8" stroke="#9933aa" stroke-width="0.8"/>
<path d="M122.1 199.8l2.8 2.8M122.1 202.6l2.8 -2.8" stroke="#9933aa" stroke-width="0.8"/>
<path d="M123.8 199.4l2.8 2.8M123.8 202.2l2.8 -2.8" stroke="#9933aa" stroke-width="0.8"/>
<path d="M125.5 198.4l2.8 2.8M125.5 201.2l2.8 -2.8" stroke="#9933aa" stroke-width="0.8"/>
<path d="M127.2 196.8l2.8 2.8M127.2 199.6l2.8 -2.8" stroke="#9933aa" stroke-width="0.8"/>
<path d="M128.9 195.1l2.8 2.8M128.9 197.9l2.8 -2.8" stroke="#9933aa" stroke-width="0.8"/>
<path d="M130.6 193.2l2.8 2.8M130.6 196.0l2.8 -2.8" stroke="#9933aa" stroke-width="0.8"/>
<path d="M132.3 191.2l2.8 2.8M132.3 194.0l2.8 -2.8" stroke="#9933aa" stroke-width="0.8"/>
<path d="M134.0 187.9l2.8 2.8M134.0 190.7l2.8 -2.8" stroke="#9933aa" stroke-width="0.8"/>
<path d="M135.7 184.5l2.8 2.8M135.7 187.3l2.8 -2.8" stroke="#9933aa" stroke-width="0.8"/>
<path d="M137.4 180.6l2.8 2.8M137.4 183.4l2.8 -2.8" stroke="#9933aa" stroke-width="0.8"/>
<path d="M139.1 176.6l2.8 2.8M139.1 179.4l2.8 -2.8" stroke="#9933aa" stroke-width="0.8"/>
<path d="M140.8 173.5l2.8 2.8M140.8 176.3l2.8 -2.8" stroke="#9933aa" stroke-width="0.8"/>
<path d="M142.5 170.7l2.8 2.8M142.5 173.5l2.8 -2.8" stroke="#9933aa" stroke-width="0.8"/>
<path d="M144.2 169.0l2.8 2.8M144.2 171.8l2.8 -2.8" stroke="#9933aa" stroke-width="0.8"/>
<path d="M145.9 167.8l2.8 2.8M145.9 170.6l2.8 -2.8" stroke="#9933aa" stroke-width="0.8"/>
<path d="M147.6 166.5l2.8 2.8M147.6 169.3l2.8 -2.8" stroke="#9933aa" stroke-width="0.8"/>
<path d="M149.3 165.9l2.8 2.8M149.3 168.7l2.8 -2.8" stroke="#9933aa" stroke-width="0.8"/>
<path d="M151.0 165.4l2.8 2.8M151.0 168.2l2.8 -2.8" stroke="#9933aa" stroke-width="0.8"/>
<path d="M152.7 165.8l2.8 2.8M152.7 168.6l2.8 -2.8" stroke="#9933aa" stroke-width="0.8"/>
<path d="M154.4 166.4l2.8 2.8M154.4 169.2l2.8 -2.8" stroke="#9933aa" stroke-width="0.8"/>
<path d="M156.1 167.6l2.8 2.8M156.1 170.4l2.8 -2.8" stroke="#9933aa" stroke-width="0.8"/>
<path d="M157.8 169.0l2.8 2.8M157.8 171.8l2.8 -2.8" stroke="#9933aa" stroke-width="0.8"/>
<path d="M159.5 170.1l2.8 2.8M159.5 172.9l2.8 -2.8" stroke="#9933aa" stroke-width="0.8"/>
<path d="M161.2 171.2l2.8 2.8M161.2 174.0l2.8 -2.8" stroke="#9933aa" stroke-width="0.8"/>
<path d="M162.9 172.2l2.8 2.8M162.9 175.0l2.8 -2.8" stroke="#9933aa" stroke-width="0.8"/>
<path d="M164.6 173.2l2.8 2.8M164.6 176.0l2.8 -2.8" stroke="#9933aa" stroke-width="0.8"/>
<path d="M166.3 174.2l2.8 2.8M166.3 177.0l2.8 -2.8" stroke="#9933aa" stroke-width="0.8"/>
<path d="M168.0 175.2l2.8 2.8M168.0 178.0l2.8 -2.8" stroke="#9933aa" stroke-width="0.8"/>
<path d="M169.7 175.8l2.8 2.8M169.7 178.6l2.8 -2.8" stroke="#9933aa" stroke-width="0.8"/>
<path d="M171.4 175.9l2.8 2.8M171.4 178.7l2.8 -2.8" stroke="#9933aa" stroke-width="0.8"/>
<path d="M173.1 176.2l2.8 2.8M173.1 179.0l2.8 -2.8" stroke="#9933aa" stroke-width="0.8"/>
<path d="M174.8 177.2l2.8 2.8M174.8 180.0l2.8 -2.8" stroke="#9933aa" stroke-width="0.8"/>
<path d="M176.5 179.5l2.8 2.8M176.5 182.3l2.8 -2.8" stroke="#9933aa" stroke-width="0.8"/>
<path d="M178.2 180.6l2.8 2.8M178.2 183.4l2.8 -2.8" stroke="#9933aa" stroke-width="0.8"/>
<path d="M179.9 180.6l2.8 2.8M179.9 183.4l2.8 -2.8" stroke="#9933aa" stroke-width="0.8"/>
<path d="M181.6 183.2l2.8 2.8M181.6 186.0l2.8 -2.8" stroke="#9933aa" stroke-width="0.8"/>
<path d="M183.3 182.7l2.8 2.8M183.3 185.5l2.8 -2.8" stroke="#9933aa" stroke-width="0.8"/>
<path d="M185.0 183.7l2.8 2.8M185.0 186.5l2.8 -2.8" stroke="#9933aa" stroke-width="0.8"/>
<path d="M186.7 185.1l2.8 2.8M186.7 187.9l2.8 -2.8" stroke="#9933aa" stroke-width="0.8"/>
<path d="M188.4 183.7l2.8 2.8M188.4 186.5l2.8 -2.8" stroke="#9933aa" stroke-width="0.8"/>
<path d="M190.1 183.2l2.8 2.8M190.1 186.0l2.8 -2.8" stroke="#9933aa" stroke-width="0.8"/>
<path d="M191.8 186.6l2.8 2.8M191.8 189.4l2.8 -2.8" stroke="#9933aa" stroke-width="0.8"/>
<path d="M193.5 185.9l2.8 2.8M193.5 188.7l2.8 -2.8" stroke="#9933aa" stroke-width="0.8"/>
<path d="M195.2 188.4l2.8 2.8M195.2 191.2l2.8 -2.8" stroke="#9933aa" stroke-width="0.8"/>
<path d="M196.9 188.0l2.8 2.8M196.9 190.8l2.8 -2.8" stroke="#9933aa" stroke-width="0.8"/>
<path d="M198.6 189.3l2.8 2.8M198.6 192.1l2.8 -2.8" stroke="#9933aa" stroke-width="0.8"/>
<path d="M200.3 189.6l2.8 2.8M200.3 192.4l2.8 -2.8" stroke="#9933aa" stroke-width="0.8"/>
<path d="M202.0 187.3l2.8 2.8M202.0 190.1l2.8 -2.8" stroke="#9933aa" stroke-width="0.8"/>
<path d="M203.7 190.7l2.8 2.8M203.7 193.5l2.8 -2.8" stroke="#9933aa" stroke-width="0.8"/>
<path d="M205.4 189.9l2.8 2.8M205.4 192.7l2.8 -2.8" stroke="#9933aa" stroke-width="0.8"/>
<path d="M207.1 190.3l2.8 2.8M207.1 193.1l2.8 -2.8" stroke="#9933aa" stroke-width="0.8"/>
<path d="M208.8 191.2l2.8 2.8M208.8 194.0l2.8 -2.8" stroke="#9933aa" stroke-width="0.8"/>
<path d="M210.5 192.6l2.8 2.8M210.5 195.4l2.8 -2.8" stroke="#9933aa" stroke-width="0.8"/>
<path d="M212.2 193.0l2.8 2.8M212.2 195.8l2.8 -2.8" stroke="#9933aa" stroke-width="0.8"/>
<path d="M213.9 193.5l2.8 2.8M213.9 196.3l2.8 -2.8" stroke="#9933aa" stroke-width="0.8"/>
<path d="M215.6 191.0l2.8 2.8M215.6 193.8l2.8 -2.8" stroke="#9933aa" stroke-width="0.8"/>
<path d="M217.3 192.4l2.8 2.8M217.3 195.2l2.8 -2.8" stroke="#9933aa" stroke-width="0.8"/>
<path d="M219.0 190.7l2.8 2.8M219.0 193.5l2.8 -2.8" stroke="#9933aa" stroke-width="0.8"/>
<path d="M220.7 193.4l2.8 2.8M220.7 196.2l2.8 -2.8" stroke="#9933aa" stroke-width="0.8"/>
<path d="M222.4 194.5l2.8 2.8M222.4 197.3l2.8 -2.8" stroke="#9933aa" stroke-width="0.8"/>
<path d="M224.1 193.2l2.8 2.8M224.1 196.0l2.8 -2.8" stroke="#9933aa" stroke-width="0.8"/>
<path d="M225.8 194.6l2.8 2.8M225.8 197.4l2.8 -2.8" stroke="#9933aa" stroke-width="0.8"/>
<path d="M227.5 194.9l2.8 2.8M227.5 197.7l2.8 -2.8" stroke="#9933aa" stroke-width="0.8"/>
<path d="M229.2 196.2l2.8 2.8M229.2 199.0l2.8 -2.8" stroke="#9933aa" stroke-width="0.8"/>
<path d="M230.9 194.1l2.8 2.8M230.9 196.9l2.8 -2.8" stroke="#9933aa" stroke-width="0.8"/>
<path d="M232.6 194.3l2.8 2.8M232.6 197.1l2.8 -2.8" stroke="#9933aa" stroke-width="0.8"/>
<path d="M234.3 194.7l2.8 2.8M234.3 197.5l2.8 -2.8" stroke="#9933aa" stroke-width="0.8"/>
<path d="M236.0 198.4l2.8 2.8M236.0 201.2l2.8 -2.8" stroke="#9933aa" stroke-width="0.8"/>
<path d="M237.7 197.8l2.8 2.8M237.7 200.6l2.8 -2.8" stroke="#9933aa" stroke-width="0.8"/>
<path d="M239.4 196.3l2.8 2.8M239.4 199.1l2.8 -2.8" stroke="#9933aa" stroke-width="0.8"/>
<path d="M241.1 197.1l2.8 2.8M241.1 199.9l2.8 -2.8" stroke="#9933aa" stroke-width="0.8"/>
<path d="M242.8 197.2l2.8 2.8M242.8 200.0l2.8 -2.8" stroke="#9933aa" stroke-width="0.8"/>
<path d="M244.5 197.7l2.8 2.8M244.5 200.5l2.8 -2.8" stroke="#9933aa" stroke-width="0.8"/>
<path d="M246.2 197.3l2.8 2.8M246.2 200.1l2.8 -2.8" stroke="#9933aa" stroke-width="0.8"/>
<path d="M247.9 197.4l2.8 2.8M247.9 200.2l2.8 -2.8" stroke="#9933aa" stroke-width="0.8"/>
<path d="M249.6 196.1l2.8 2.8M249.6 198.9l2.8 -2.8" stroke="#9933aa" stroke-width="0.8"/>
<path d="M251.3 197.4l2.8 2.8M251.3 200.2l2.8 -2.8" stroke="#9933aa" stroke-width="0.8"/>
<path d="M253.0 201.5l2.8 2.8M253.0 204.3l2.8 -2.8" stroke="#9933aa" stroke-width="0.8"/>
<path d="M254.7 199.9l2.8 2.8M254.7 202.7l2.8 -2.8" stroke="#9933aa" stroke-width="0.8"/>
<path d="M256.4 199.4l2.8 2.8M256.4 202.2l2.8 -2.8" stroke="#9933aa" stroke-width="0.8"/>
<path d="M258.1 199.1l2.8 2.8M258.1 201.9l2.8 -2.8" stroke="#9933aa" stroke-width="0.8"/>
<path d="M259.8 199.7l2.8 2.8M259.8 202.5l2.8 -2.8" stroke="#9933aa" stroke-width="0.8"/>
<path d="M261.5 200.2l2.8 2.8M261.5 203.0l2.8 -2.8" stroke="#9933aa" stroke-width="0.8"/>
<path d="M263.2 198.4l2.8 2.8M263.2 201.2l2.8 -2.8" stroke="#9933aa" stroke-width="0.8"/>
<path d="M264.9 200.0l2.8 2.8M264.9 202.8l2.8 -2.8" stroke="#9933aa" stroke-width="0.8"/>
<path d="M266.6 200.0l2.8 2.8M266.6 202.8l2.8 -2.8" stroke="#9933aa" stroke-width="0.8"/>
<path d="M268.3 198.3l2.8 2.8M268.3 201.1l2.8 -2.8" stroke="#9933aa" stroke-width="0.8"/>
<path d="M270.0 198.2l2.8 2.8M270.0 201.0l2.8 -2.8" stroke="#9933aa" stroke-width="0.8"/>
<path d="M271.7 197.8l2.8 2.8M271.7 200.6l2.8 -2.8" stroke="#9933aa" stroke-width="0.8"/>
<path d="M273.4 197.7l2.8 2.8M273.4 200.5l2.8 -2.8" stroke="#9933aa" stroke-width="0.8"/>
<path d="M275.1 201.2l2.8 2.8M275.1 204.0l2.8 -2.8" stroke="#9933aa" stroke-width="0.8"/>
<path d="M276.8 195.4l2.8 2.8M276.8 198.2l2.8 -2.8" stroke="#9933aa" stroke-width="0.8"/>
<path d="M278.5 199.1l2.8 2.8M278.5 201.9l2.8 -2.8" stroke="#9933aa" stroke-width="0.8"/>
<path d="M280.2 198.5l2.8 2.8M280.2 201.3l2.8 -2.8" stroke="#9933aa" stroke-width="0.8"/>
<path d="M281.9 198.5l2.8 2.8M281.9 201.3l2.8 -2.8" stroke="#9933aa" stroke-width="0.8"/>
<path d="M283.6 199.8l2.8 2.8M283.6 202.6l2.8 -2.8" stroke="#9933aa" stroke-width="0.8"/>
<path d="M285.3 201.6l2.8 2.8M285.3 204.4l2.8 -2.8" stroke="#9933aa" stroke-width="0.8"/>
<path d="M287.0 199.7l2.8 2.8M287.0 202.5l2.8 -2.8" stroke="#9933aa" stroke-width="0.8"/>
<path d="M288.7 199.3l2.8 2.8M288.7 202.1l2.8 -2.8" stroke="#9933aa" stroke-width="0.8"/>
<path d="M290.4 198.5l2.8 2.8M290.4 201.3l2.8 -2.8" stroke="#9933aa" stroke-width="0.8"/>
<path d="M292.1 199.4l2.8 2.8M292.1 202.2l2.8 -2.8" stroke="#9933aa" stroke-width="0.8"/>
<path d="M293.8 201.2l2.8 2.8M293.8 204.0l2.8 -2.8" stroke="#9933aa" stroke-width="0.8"/>
<path d="M295.5 198.9l2.8 2.8M295.5 201.7l2.8 -2.8" stroke="#9933aa" stroke-width="0.8"/>
<path d="M297.2 197.5l2.8 2.8M297.2 200.3l2.8 -2.8" stroke="#9933aa" stroke-width="0.8"/>
<path d="M298.9 197.3l2.8 2.8M298.9 200.1l2.8 -2.8" stroke="#9933aa" stroke-width="0.8"/>
<path d="M300.6 197.6l2.8 2.8M300.6 200.4l2.8 -2.8" stroke="#9933aa" stroke-width="0.8"/>
<path d="M302.3 197.1l2.8 2.8M302.3 199.9l2.8 -2.8" stroke="#9933aa" stroke-width="0.8"/>
<path d="M304.0 201.6l2.8 2.8M304.0 204.4l2.8 -2.8" stroke="#9933aa" stroke-width="0.8"/>
<path d="M305.7 200.2l2.8 2.8M305.7 203.0l2.8 -2.8" stroke="#9933aa" stroke-width="0.8"/>
<path d="M307.4 199.2l2.8 2.8M307.4 202.0l2.8 -2.8" stroke="#9933aa" stroke-width="0.8"/>
<path d="M309.1 202.2l2.8 2.8M309.1 205.0l2.8 -2.8" stroke="#9933aa" stroke-width="0.8"/>
<path d="M310.8 198.4l2.8 2.8M310.8 201.2l2.8 -2.8" stroke="#9933aa" stroke-width="0.8"/>
<path d="M312.5 201.0l2.8 2.8M312.5 203.8l2.8 -2.8" stroke="#9933aa" stroke-width="0.8"/>
<path d="M314.2 201.0l2.8 2.8M314.2 203.8l2.8 -2.8" stroke="#9933aa" stroke-width="0.8"/>
<path d="M315.9 196.8l2.8 2.8M315.9 199.6l2.8 -2.8" stroke="#9933aa" stroke-width="0.8"/>
<path d="M317.6 196.8l2.8 2.8M317.6 199.6l2.8 -2.8" stroke="#9933aa" stroke-width="0.8"/>
<path d="M319.3 197.9l2.8 2.8M319.3 200.7l2.8 -2.8" stroke="#9933aa" stroke-width="0.8"/>
<path d="M321.0 201.2l2.8 2.8M321.0 204.0l2.8 -2.8" stroke="#9933aa" stroke-width="0.8"/>
<path d="M322.7 201.9l2.8 2.8M322.7 204.7l2.8 -2.8" stroke="#9933aa" stroke-width="0.8"/>
<path d="M324.4 197.4l2.8 2.8M324.4 200.2l2.8 -2.8" stroke="#9933aa" stroke-width="0.8"/>
<path d="M326.1 201.5l2.8 2.8M326.1 204.3l2.8 -2.8" stroke="#9933aa" stroke-width="0.8"/>
<path d="M327.8 198.9l2.8 2.8M327.8 201.7l2.8 -2.8" stroke="#9933aa" stroke-width="0.8"/>
<path d="M329.5 198.9l2.8 2.8M329.5 201.7l2.8 -2.8" stroke="#9933aa" stroke-width="0.8"/>
<path d="M331.2 198.6l2.8 2.8M331.2 201.4l2.8 -2.8" stroke="#9933aa" stroke-width="0.8"/>
<path d="M332.9 199.0l2.8 2.8M332.9 201.8l2.8 -2.8" stroke="#9933aa" stroke-width="0.8"/>
<path d="M334.6 196.3l2.8 2.8M334.6 199.1l2.8 -2.8" stroke="#9933aa" stroke-width="0.8"/>
<path d="M336.3 197.8l2.8 2.8M336.3 200.6l2.8 -2.8" stroke="#9933aa" stroke-width="0.8"/>
<path d="M338.0 197.4l2.8 2.8M338.0 200.2l2.8 -2.8" stroke="#9933aa" stroke-width="0.8"/>
<polyline points="106.5,202.1 108.2,202.0 109.9,201.9 111.6,201.8 113.3,201.6 115.0,201.2 116.7,200.6 118.4,199.6 120.1,198.4 121.8,196.0 123.5,192.6 125.2,187.9 126.9,183.2 128.6,177.7 130.3,169.0 132.0,162.9 133.7,158.8 135.4,155.7 137.1,154.4 138.8,153.2 140.5,152.8 142.2,153.0 143.9,153.6 145.6,154.4 147.3,155.5 149.0,156.9 150.7,158.5 152.4,160.6 154.1,163.3 155.8,165.7 157.5,167.1 159.2,168.1 160.9,169.0 162.6,169.8 164.3,170.3 166.0,170.8 167.7,171.6 169.4,172.6 171.1,174.1 172.8,176.5 174.5,178.0 176.2,175.7 177.9,175.1 179.6,177.2 181.3,177.5 183.0,181.2 184.7,180.5 186.4,180.0 188.1,182.5 189.8,182.8 191.5,181.5 193.2,183.3 194.9,184.4 196.6,185.4 198.3,186.3 200.0,186.5 201.7,187.8 203.4,187.8 205.1,188.2 206.8,191.3 208.5,190.9 210.2,191.6 211.9,190.1 213.6,192.0 215.3,193.5 217.0,191.8 218.7,194.7 220.4,193.7 222.1,194.7 223.8,194.4 225.5,195.0 227.2,196.3 228.9,194.7 230.6,197.3 232.3,194.6 234.0,194.6 235.7,197.0 237.4,194.8 239.1,196.0 240.8,198.0 242.5,198.7 244.2,194.5 245.9,198.1 247.6,200.5 249.3,199.7 251.0,197.6 252.7,197.3 254.4,198.0 256.1,196.7 257.8,198.4 259.5,198.8 261.2,199.1 262.9,201.8 264.6,199.4 266.3,197.2 268.0,202.3 269.7,198.3 271.4,199.6 273.1,200.2 274.8,199.8 276.5,198.5 278.2,200.0 279.9,204.9 281.6,199.3 283.3,200.2 285.0,202.7 286.7,202.0 288.4,202.0 290.1,202.2 291.8,196.6 293.5,198.8 295.2,200.8 296.9,201.5 298.6,203.1 300.3,201.4 302.0,200.0 303.7,200.6 305.4,200.1 307.1,201.0 308.8,201.8 310.5,199.8 312.2,198.9 313.9,198.8 315.6,202.7 317.3,203.1 319.0,202.5 320.7,202.2 322.4,202.2 324.1,200.5 325.8,201.8 327.5,198.4 329.2,200.1 330.9,199.0 332.6,202.0 334.3,199.3 336.0,200.3 337.7,201.3 339.4,203.2" fill="none" stroke="#880000" stroke-width="0.9" stroke-linejoin="round"/>
<circle cx="106.5" cy="202.1" r="2.3" fill="#880000"/>
<circle cx="108.2" cy="202.0" r="2.3" fill="#880000"/>
<circle cx="109.9" cy="201.9" r="2.3" fill="#880000"/>
<circle cx="111.6" cy="201.8" r="2.3" fill="#880000"/>
<circle cx="113.3" cy="201.6" r="2.3" fill="#880000"/>
<circle cx="115.0" cy="201.2" r="2.3" fill="#880000"/>
<circle cx="116.7" cy="200.6" r="2.3" fill="#880000"/>
<circle cx="118.4" cy="199.6" r="2.3" fill="#880000"/>
<circle cx="120.1" cy="198.4" r="2.3" fill="#880000"/>
<circle cx="121.8" cy="196.0" r="2.3" fill="#880000"/>
<circle cx="123.5" cy="192.6" r="2.3" fill="#880000"/>
<circle cx="125.2" cy="187.9" r="2.3" fill="#880000"/>
<circle cx="126.9" cy="183.2" r="2.3" fill="#880000"/>
<circle cx="128.6" cy="177.7" r="2.3" fill="#880000"/>
<circle cx="130.3" cy="169.0" r="2.3" fill="#880000"/>
<circle cx="132.0" cy="162.9" r="2.3" fill="#880000"/>
<circle cx="133.7" cy="158.8" r="2.3" fill="#880000"/>
<circle cx="135.4" cy="155.7" r="2.3" fill="#880000"/>
<circle cx="137.1" cy="154.4" r="2.3" fill="#880000"/>
<circle cx="138.8" cy="153.2" r="2.3" fill="#880000"/>
<circle cx="140.5" cy="152.8" r="2.3" fill="#880000"/>
<circle cx="142.2" cy="153.0" r="2.3" fill="#880000"/>
<circle cx="143.9" cy="153.6" r="2.3" fill="#880000"/>
<circle cx="145.6" cy="154.4" r="2.3" fill="#880000"/>
<circle cx="147.3" cy="155.5" r="2.3" fill="#880000"/>
<circle cx="149.0" cy="156.9" r="2.3" fill="#880000"/>
<circle cx="150.7" cy="158.5" r="2.3" fill="#880000"/>
<circle cx="152.4" cy="160.6" r="2.3" fill="#880000"/>
<circle cx="154.1" cy="163.3" r="2.3" fill="#880000"/>
<circle cx="155.8" cy="165.7" r="2.3" fill="#880000"/>
<circle cx="157.5" cy="167.1" r="2.3" fill="#880000"/>
<circle cx="159.2" cy="168.1" r="2.3" fill="#880000"/>
<circle cx="160.9" cy="169.0" r="2.3" fill="#880000"/>
<circle cx="162.6" cy="169.8" r="2.3" fill="#880000"/>
<circle cx="164.3" cy="170.3" r="2.3" fill="#880000"/>
<circle cx="166.0" cy="170.8" r="2.3" fill="#880000"/>
<circle cx="167.7" cy="171.6" r="2.3" fill="#880000"/>
<circle cx="169.4" cy="172.6" r="2.3" fill="#880000"/>
<circle cx="171.1" cy="174.1" r="2.3" fill="#880000"/>
<circle cx="172.8" cy="176.5" r="2.3" fill="#880000"/>
<circle cx="174.5" cy="178.0" r="2.3" fill="#880000"/>
<circle cx="176.2" cy="175.7" r="2.3" fill="#880000"/>
<circle cx="177.9" cy="175.1" r="2.3" fill="#880000"/>
<circle cx="179.6" cy="177.2" r="2.3" fill="#880000"/>
<circle cx="181.3" cy="177.5" r="2.3" fill="#880000"/>
<circle cx="183.0" cy="181.2" r="2.3" fill="#880000"/>
<circle cx="184.7" cy="180.5" r="2.3" fill="#880000"/>
<circle cx="186.4" cy="180.0" r="2.3" fill="#880000"/>
<circle cx="188.1" cy="182.5" r="2.3" fill="#880000"/>
<circle cx="189.8" cy="182.8" r="2.3" fill="#880000"/>
<circle cx="191.5" cy="181.5" r="2.3" fill="#880000"/>
<circle cx="193.2" cy="183.3" r="2.3" fill="#880000"/>
<circle cx="194.9" cy="184.4" r="2.3" fill="#880000"/>
<circle cx="196.6" cy="185.4" r="2.3" fill="#880000"/>
<circle cx="198.3" cy="186.3" r="2.3" fill="#880000"/>
<circle cx="200.0" cy="186.5" r="2.3" fill="#880000"/>
<circle cx="201.7" cy="187.8" r="2.3" fill="#880000"/>
<circle cx="203.4" cy="187.8" r="2.3" fill="#880000"/>
<circle cx="205.1" cy="188.2" r="2.3" fill="#880000"/>
<circle cx="206.8" cy="191.3" r="2.3" fill="#880000"/>
<circle cx="208.5" cy="190.9" r="2.3" fill="#880000"/>
<circle cx="210.2" cy="191.6" r="2.3" fill="#880000"/>
<circle cx="211.9" cy="190.1" r="2.3" fill="#880000"/>
<circle cx="213.6" cy="192.0" r="2.3" fill="#880000"/>
<circle cx="215.3" cy="193.5" r="2.3" fill="#880000"/>
<circle cx="217.0" cy="191.8" r="2.3" fill="#880000"/>
<circle cx="218.7" cy="194.7" r="2.3" fill="#880000"/>
<circle cx="220.4" cy="193.7" r="2.3" fill="#880000"/>
<circle cx="222.1" cy="194.7" r="2.3" fill="#880000"/>
<circle cx="223.8" cy="194.4" r="2.3" fill="#880000"/>
<circle cx="225.5" cy="195.0" r="2.3" fill="#880000"/>
<circle cx="227.2" cy="196.3" r="2.3" fill="#880000"/>
<circle cx="228.9" cy="194.7" r="2.3" fill="#880000"/>
<circle cx="230.6" cy="197.3" r="2.3" fill="#880000"/>
<circle cx="232.3" cy="194.6" r="2.3" fill="#880000"/>
<circle cx="234.0" cy="194.6" r="2.3" fill="#880000"/>
<circle cx="235.7" cy="197.0" r="2.3" fill="#880000"/>
<circle cx="237.4" cy="194.8" r="2.3" fill="#880000"/>
<circle cx="239.1" cy="196.0" r="2.3" fill="#880000"/>
<circle cx="240.8" cy="198.0" r="2.3" fill="#880000"/>
<circle cx="242.5" cy="198.7" r="2.3" fill="#880000"/>
<circle cx="244.2" cy="194.5" r="2.3" fill="#880000"/>
<circle cx="245.9" cy="198.1" r="2.3" fill="#880000"/>
<circle cx="247.6" cy="200.5" r="2.3" fill="#880000"/>
<circle cx="249.3" cy="199.7" r="2.3" fill="#880000"/>
<circle cx="251.0" cy="197.6" r="2.3" fill="#880000"/>
<circle cx="252.7" cy="197.3" r="2.3" fill="#880000"/>
<circle cx="254.4" cy="198.0" r="2.3" fill="#880000"/>
<circle cx="256.1" cy="196.7" r="2.3" fill="#880000"/>
<circle cx="257.8" cy="198.4" r="2.3" fill="#880000"/>
<circle cx="259.5" cy="198.8" r="2.3" fill="#880000"/>
<circle cx="261.2" cy="199.1" r="2.3" fill="#880000"/>
<circle cx="262.9" cy="201.8" r="2.3" fill="#880000"/>
<circle cx="264.6" cy="199.4" r="2.3" fill="#880000"/>
<circle cx="266.3" cy="197.2" r="2.3" fill="#880000"/>
<circle cx="268.0" cy="202.3" r="2.3" fill="#880000"/>
<circle cx="269.7" cy="198.3" r="2.3" fill="#880000"/>
<circle cx="271.4" cy="199.6" r="2.3" fill="#880000"/>
<circle cx="273.1" cy="200.2" r="2.3" fill="#880000"/>
<circle cx="274.8" cy="199.8" r="2.3" fill="#880000"/>
<circle cx="276.5" cy="198.5" r="2.3" fill="#880000"/>
<circle cx="278.2" cy="200.0" r="2.3" fill="#880000"/>
<circle cx="279.9" cy="204.9" r="2.3" fill="#880000"/>
<circle cx="281.6" cy="199.3" r="2.3" fill="#880000"/>
<circle cx="283.3" cy="200.2" r="2.3" fill="#880000"/>
<circle cx="285.0" cy="202.7" r="2.3" fill="#880000"/>
<circle cx="286.7" cy="202.0" r="2.3" fill="#880000"/>
<circle cx="288.4" cy="202.0" r="2.3" fill="#880000"/>
<circle cx="290.1" cy="202.2" r="2.3" fill="#880000"/>
<circle cx="291.8" cy="196.6" r="2.3" fill="#880000"/>
<circle cx="293.5" cy="198.8" r="2.3" fill="#880000"/>
<circle cx="295.2" cy="200.8" r="2.3" fill="#880000"/>
<circle cx="296.9" cy="201.5" r="2.3" fill="#880000"/>
<circle cx="298.6" cy="203.1" r="2.3" fill="#880000"/>
<circle cx="300.3" cy="201.4" r="2.3" fill="#880000"/>
<circle cx="302.0" cy="200.0" r="2.3" fill="#880000"/>
<circle cx="303.7" cy="200.6" r="2.3" fill="#880000"/>
<circle cx="305.4" cy="200.1" r="2.3" fill="#880000"/>
<circle cx="307.1" cy="201.0" r="2.3" fill="#880000"/>
<circle cx="308.8" cy="201.8" r="2.3" fill="#880000"/>
<circle cx="310.5" cy="199.8" r="2.3" fill="#880000"/>
<circle cx="312.2" cy="198.9" r="2.3" fill="#880000"/>
<circle cx="313.9" cy="198.8" r="2.3" fill="#880000"/>
<circle cx="315.6" cy="202.7" r="2.3" fill="#880000"/>
<circle cx="317.3" cy="203.1" r="2.3" fill="#880000"/>
<circle cx="319.0" cy="202.5" r="2.3" fill="#880000"/>
<circle cx="320.7" cy="202.2" r="2.3" fill="#880000"/>
<circle cx="322.4" cy="202.2" r="2.3" fill="#880000"/>
<circle cx="324.1" cy="200.5" r="2.3" fill="#880000"/>
<circle cx="325.8" cy="201.8" r="2.3" fill="#880000"/>
<circle cx="327.5" cy="198.4" r="2.3" fill="#880000"/>
<circle cx="329.2" cy="200.1" r="2.3" fill="#880000"/>
<circle cx="330.9" cy="199.0" r="2.3" fill="#880000"/>
<circle cx="332.6" cy="202.0" r="2.3" fill="#880000"/>
<circle cx="334.3" cy="199.3" r="2.3" fill="#880000"/>
<circle cx="336.0" cy="200.3" r="2.3" fill="#880000"/>
<circle cx="337.7" cy="201.3" r="2.3" fill="#880000"/>
<circle cx="339.4" cy="203.2" r="2.3" fill="#880000"/>
<polyline points="106.5,201.4 108.2,200.8 109.9,200.2 111.6,199.6 113.3,198.0 115.0,196.0 116.7,191.0 118.4,186.0 120.1,174.9 121.8,163.8 123.5,152.8 125.2,143.2 126.9,135.3 128.6,130.8 130.3,127.8 132.0,127.0 133.7,126.7 135.4,127.9 137.1,131.6 138.8,136.7 140.5,142.9 142.2,146.6 143.9,149.8 145.6,151.9 147.3,154.0 149.0,156.0 150.7,157.7 152.4,159.4 154.1,161.1 155.8,162.9 157.5,164.8 159.2,166.7 160.9,168.6 162.6,170.4 164.3,172.2 166.0,173.6 167.7,175.0 169.4,176.3 171.1,176.9 172.8,178.1 174.5,181.2 176.2,180.7 177.9,183.6 179.6,183.7 181.3,184.9 183.0,183.9 184.7,187.2 186.4,186.7 188.1,187.1 190.0,173.0 191.5,190.2 193.2,193.7 194.9,191.4 196.6,190.9 198.3,191.7 200.0,193.7 201.7,192.0 203.4,192.9 205.1,193.3 206.8,191.7 208.5,193.3 210.2,192.7 211.9,191.9 213.6,195.3 215.3,195.3 217.0,194.6 218.7,193.3 221.0,214.0 222.1,196.2 223.8,195.4 225.5,192.9 227.2,196.0 228.8,218.0 230.6,196.6 232.3,197.2 234.0,197.9 235.7,197.9 236.9,213.6 239.1,195.7 240.8,197.5 242.5,197.5 244.2,198.4 245.9,199.6 247.6,200.4 249.3,202.6 251.0,193.3 251.9,212.1 254.4,198.6 256.1,204.0 257.8,201.1 259.5,195.4 261.2,199.9 262.9,197.9 264.6,201.2 266.3,216.5 268.0,198.8 269.7,198.7 271.4,198.8 273.0,220.0 274.8,195.0 276.5,200.0 277.8,209.3 279.9,198.8 281.6,196.8 283.3,199.4 285.0,200.2 286.7,198.6 288.4,199.0 290.1,202.1 291.8,196.5 293.5,197.8 295.2,194.8 296.9,197.5 298.6,197.4 300.3,196.9 302.0,197.5 303.7,203.0 305.4,198.6 307.1,198.7 308.8,203.8 310.5,198.9 312.2,195.2 313.9,199.9 315.6,196.9 317.3,202.6 319.0,196.3 320.7,197.7 322.4,195.5 324.1,199.2 325.8,196.8 326.8,210.7 329.2,198.2 330.9,197.7 332.6,201.1 334.3,201.1 336.0,199.1 337.7,197.0 339.4,196.6" fill="none" stroke="#55bbbb" stroke-width="0.7" stroke-linejoin="round"/>
<path d="M104.9 201.4h3.2M106.5 199.8v3.2" stroke="#55bbbb" stroke-width="0.6"/>
<path d="M106.6 200.8h3.2M108.2 199.2v3.2" stroke="#55bbbb" stroke-width="0.6"/>
<path d="M108.3 200.2h3.2M109.9 198.6v3.2" stroke="#55bbbb" stroke-width="0.6"/>
<path d="M110.0 199.6h3.2M111.6 198.0v3.2" stroke="#55bbbb" stroke-width="0.6"/>
<path d="M111.7 198.0h3.2M113.3 196.4v3.2" stroke="#55bbbb" stroke-width="0.6"/>
<path d="M113.4 196.0h3.2M115.0 194.4v3.2" stroke="#55bbbb" stroke-width="0.6"/>
<path d="M115.1 191.0h3.2M116.7 189.4v3.2" stroke="#55bbbb" stroke-width="0.6"/>
<path d="M116.8 186.0h3.2M118.4 184.4v3.2" stroke="#55bbbb" stroke-width="0.6"/>
<path d="M118.5 174.9h3.2M120.1 173.3v3.2" stroke="#55bbbb" stroke-width="0.6"/>
<path d="M120.2 163.8h3.2M121.8 162.2v3.2" stroke="#55bbbb" stroke-width="0.6"/>
<path d="M121.9 152.8h3.2M123.5 151.2v3.2" stroke="#55bbbb" stroke-width="0.6"/>
<path d="M123.6 143.2h3.2M125.2 141.6v3.2" stroke="#55bbbb" stroke-width="0.6"/>
<path d="M125.3 135.3h3.2M126.9 133.7v3.2" stroke="#55bbbb" stroke-width="0.6"/>
<path d="M127.0 130.8h3.2M128.6 129.2v3.2" stroke="#55bbbb" stroke-width="0.6"/>
<path d="M128.7 127.8h3.2M130.3 126.2v3.2" stroke="#55bbbb" stroke-width="0.6"/>
<path d="M130.4 127.0h3.2M132.0 125.4v3.2" stroke="#55bbbb" stroke-width="0.6"/>
<path d="M132.1 126.7h3.2M133.7 125.1v3.2" stroke="#55bbbb" stroke-width="0.6"/>
<path d="M133.8 127.9h3.2M135.4 126.3v3.2" stroke="#55bbbb" stroke-width="0.6"/>
<path d="M135.5 131.6h3.2M137.1 130.0v3.2" stroke="#55bbbb" stroke-width="0.6"/>
<path d="M137.2 136.7h3.2M138.8 135.1v3.2" stroke="#55bbbb" stroke-width="0.6"/>
<path d="M138.9 142.9h3.2M140.5 141.3v3.2" stroke="#55bbbb" stroke-width="0.6"/>
<path d="M140.6 146.6h3.2M142.2 145.0v3.2" stroke="#55bbbb" stroke-width="0.6"/>
<path d="M142.3 149.8h3.2M143.9 148.2v3.2" stroke="#55bbbb" stroke-width="0.6"/>
<path d="M144.0 151.9h3.2M145.6 150.3v3.2" stroke="#55bbbb" stroke-width="0.6"/>
<path d="M145.7 154.0h3.2M147.3 152.4v3.2" stroke="#55bbbb" stroke-width="0.6"/>
<path d="M147.4 156.0h3.2M149.0 154.4v3.2" stroke="#55bbbb" stroke-width="0.6"/>
<path d="M149.1 157.7h3.2M150.7 156.1v3.2" stroke="#55bbbb" stroke-width="0.6"/>
<path d="M150.8 159.4h3.2M152.4 157.8v3.2" stroke="#55bbbb" stroke-width="0.6"/>
<path d="M152.5 161.1h3.2M154.1 159.5v3.2" stroke="#55bbbb" stroke-width="0.6"/>
<path d="M154.2 162.9h3.2M155.8 161.3v3.2" stroke="#55bbbb" stroke-width="0.6"/>
<path d="M155.9 164.8h3.2M157.5 163.2v3.2" stroke="#55bbbb" stroke-width="0.6"/>
<path d="M157.6 166.7h3.2M159.2 165.1v3.2" stroke="#55bbbb" stroke-width="0.6"/>
<path d="M159.3 168.6h3.2M160.9 167.0v3.2" stroke="#55bbbb" stroke-width="0.6"/>
<path d="M161.0 170.4h3.2M162.6 168.8v3.2" stroke="#55bbbb" stroke-width="0.6"/>
<path d="M162.7 172.2h3.2M164.3 170.6v3.2" stroke="#55bbbb" stroke-width="0.6"/>
<path d="M164.4 173.6h3.2M166.0 172.0v3.2" stroke="#55bbbb" stroke-width="0.6"/>
<path d="M166.1 175.0h3.2M167.7 173.4v3.2" stroke="#55bbbb" stroke-width="0.6"/>
<path d="M167.8 176.3h3.2M169.4 174.7v3.2" stroke="#55bbbb" stroke-width="0.6"/>
<path d="M169.5 176.9h3.2M171.1 175.3v3.2" stroke="#55bbbb" stroke-width="0.6"/>
<path d="M171.2 178.1h3.2M172.8 176.5v3.2" stroke="#55bbbb" stroke-width="0.6"/>
<path d="M172.9 181.2h3.2M174.5 179.6v3.2" stroke="#55bbbb" stroke-width="0.6"/>
<path d="M174.6 180.7h3.2M176.2 179.1v3.2" stroke="#55bbbb" stroke-width="0.6"/>
<path d="M176.3 183.6h3.2M177.9 182.0v3.2" stroke="#55bbbb" stroke-width="0.6"/>
<path d="M178.0 183.7h3.2M179.6 182.1v3.2" stroke="#55bbbb" stroke-width="0.6"/>
<path d="M179.7 184.9h3.2M181.3 183.3v3.2" stroke="#55bbbb" stroke-width="0.6"/>
<path d="M181.4 183.9h3.2M183.0 182.3v3.2" stroke="#55bbbb" stroke-width="0.6"/>
<path d="M183.1 187.2h3.2M184.7 185.6v3.2" stroke="#55bbbb" stroke-width="0.6"/>
<path d="M184.8 186.7h3.2M186.4 185.1v3.2" stroke="#55bbbb" stroke-width="0.6"/>
<path d="M186.5 187.1h3.2M188.1 185.5v3.2" stroke="#55bbbb" stroke-width="0.6"/>
<path d="M188.4 173.0h3.2M190.0 171.4v3.2" stroke="#55bbbb" stroke-width="0.6"/>
<path d="M189.9 190.2h3.2M191.5 188.6v3.2" stroke="#55bbbb" stroke-width="0.6"/>
<path d="M191.6 193.7h3.2M193.2 192.1v3.2" stroke="#55bbbb" stroke-width="0.6"/>
<path d="M193.3 191.4h3.2M194.9 189.8v3.2" stroke="#55bbbb" stroke-width="0.6"/>
<path d="M195.0 190.9h3.2M196.6 189.3v3.2" stroke="#55bbbb" stroke-width="0.6"/>
<path d="M196.7 191.7h3.2M198.3 190.1v3.2" stroke="#55bbbb" stroke-width="0.6"/>
<path d="M198.4 193.7h3.2M200.0 192.1v3.2" stroke="#55bbbb" stroke-width="0.6"/>
<path d="M200.1 192.0h3.2M201.7 190.4v3.2" stroke="#55bbbb" stroke-width="0.6"/>
<path d="M201.8 192.9h3.2M203.4 191.3v3.2" stroke="#55bbbb" stroke-width="0.6"/>
<path d="M203.5 193.3h3.2M205.1 191.7v3.2" stroke="#55bbbb" stroke-width="0.6"/>
<path d="M205.2 191.7h3.2M206.8 190.1v3.2" stroke="#55bbbb" stroke-width="0.6"/>
<path d="M206.9 193.3h3.2M208.5 191.7v3.2" stroke="#55bbbb" stroke-width="0.6"/>
<path d="M208.6 192.7h3.2M210.2 191.1v3.2" stroke="#55bbbb" stroke-width="0.6"/>
<path d="M210.3 191.9h3.2M211.9 190.3v3.2" stroke="#55bbbb" stroke-width="0.6"/>
<path d="M212.0 195.3h3.2M213.6 193.7v3.2" stroke="#55bbbb" stroke-width="0.6"/>
<path d="M213.7 195.3h3.2M215.3 193.7v3.2" stroke="#55bbbb" stroke-width="0.6"/>
<path d="M215.4 194.6h3.2M217.0 193.0v3.2" stroke="#55bbbb" stroke-width="0.6"/>
<path d="M217.1 193.3h3.2M218.7 191.7v3.2" stroke="#55bbbb" stroke-width="0.6"/>
<path d="M220.5 196.2h3.2M222.1 194.6v3.2" stroke="#55bbbb" stroke-width="0.6"/>
<path d="M222.2 195.4h3.2M223.8 193.8v3.2" stroke="#55bbbb" stroke-width="0.6"/>
<path d="M223.9 192.9h3.2M225.5 191.3v3.2" stroke="#55bbbb" stroke-width="0.6"/>
<path d="M225.6 196.0h3.2M227.2 194.4v3.2" stroke="#55bbbb" stroke-width="0.6"/>
<path d="M229.0 196.6h3.2M230.6 195.0v3.2" stroke="#55bbbb" stroke-width="0.6"/>
<path d="M230.7 197.2h3.2M232.3 195.6v3.2" stroke="#55bbbb" stroke-width="0.6"/>
<path d="M232.4 197.9h3.2M234.0 196.3v3.2" stroke="#55bbbb" stroke-width="0.6"/>
<path d="M234.1 197.9h3.2M235.7 196.3v3.2" stroke="#55bbbb" stroke-width="0.6"/>
<path d="M237.5 195.7h3.2M239.1 194.1v3.2" stroke="#55bbbb" stroke-width="0.6"/>
<path d="M239.2 197.5h3.2M240.8 195.9v3.2" stroke="#55bbbb" stroke-width="0.6"/>
<path d="M240.9 197.5h3.2M242.5 195.9v3.2" stroke="#55bbbb" stroke-width="0.6"/>
<path d="M242.6 198.4h3.2M244.2 196.8v3.2" stroke="#55bbbb" stroke-width="0.6"/>
<path d="M244.3 199.6h3.2M245.9 198.0v3.2" stroke="#55bbbb" stroke-width="0.6"/>
<path d="M246.0 200.4h3.2M247.6 198.8v3.2" stroke="#55bbbb" stroke-width="0.6"/>
<path d="M247.7 202.6h3.2M249.3 201.0v3.2" stroke="#55bbbb" stroke-width="0.6"/>
<path d="M249.4 193.3h3.2M251.0 191.7v3.2" stroke="#55bbbb" stroke-width="0.6"/>
<path d="M252.8 198.6h3.2M254.4 197.0v3.2" stroke="#55bbbb" stroke-width="0.6"/>
<path d="M254.5 204.0h3.2M256.1 202.4v3.2" stroke="#55bbbb" stroke-width="0.6"/>
<path d="M256.2 201.1h3.2M257.8 199.5v3.2" stroke="#55bbbb" stroke-width="0.6"/>
<path d="M257.9 195.4h3.2M259.5 193.8v3.2" stroke="#55bbbb" stroke-width="0.6"/>
<path d="M259.6 199.9h3.2M261.2 198.3v3.2" stroke="#55bbbb" stroke-width="0.6"/>
<path d="M261.3 197.9h3.2M262.9 196.3v3.2" stroke="#55bbbb" stroke-width="0.6"/>
<path d="M263.0 201.2h3.2M264.6 199.6v3.2" stroke="#55bbbb" stroke-width="0.6"/>
<path d="M266.4 198.8h3.2M268.0 197.2v3.2" stroke="#55bbbb" stroke-width="0.6"/>
<path d="M268.1 198.7h3.2M269.7 197.1v3.2" stroke="#55bbbb" stroke-width="0.6"/>
<path d="M269.8 198.8h3.2M271.4 197.2v3.2" stroke="#55bbbb" stroke-width="0.6"/>
<path d="M273.2 195.0h3.2M274.8 193.4v3.2" stroke="#55bbbb" stroke-width="0.6"/>
<path d="M274.9 200.0h3.2M276.5 198.4v3.2" stroke="#55bbbb" stroke-width="0.6"/>
<path d="M278.3 198.8h3.2M279.9 197.2v3.2" stroke="#55bbbb" stroke-width="0.6"/>
<path d="M280.0 196.8h3.2M281.6 195.2v3.2" stroke="#55bbbb" stroke-width="0.6"/>
<path d="M281.7 199.4h3.2M283.3 197.8v3.2" stroke="#55bbbb" stroke-width="0.6"/>
<path d="M283.4 200.2h3.2M285.0 198.6v3.2" stroke="#55bbbb" stroke-width="0.6"/>
<path d="M285.1 198.6h3.2M286.7 197.0v3.2" stroke="#55bbbb" stroke-width="0.6"/>
<path d="M286.8 199.0h3.2M288.4 197.4v3.2" stroke="#55bbbb" stroke-width="0.6"/>
<path d="M288.5 202.1h3.2M290.1 200.5v3.2" stroke="#55bbbb" stroke-width="0.6"/>
<path d="M290.2 196.5h3.2M291.8 194.9v3.2" stroke="#55bbbb" stroke-width="0.6"/>
<path d="M291.9 197.8h3.2M293.5 196.2v3.2" stroke="#55bbbb" stroke-width="0.6"/>
<path d="M293.6 194.8h3.2M295.2 193.2v3.2" stroke="#55bbbb" stroke-width="0.6"/>
<path d="M295.3 197.5h3.2M296.9 195.9v3.2" stroke="#55bbbb" stroke-width="0.6"/>
<path d="M297.0 197.4h3.2M298.6 195.8v3.2" stroke="#55bbbb" stroke-width="0.6"/>
<path d="M298.7 196.9h3.2M300.3 195.3v3.2" stroke="#55bbbb" stroke-width="0.6"/>
<path d="M300.4 197.5h3.2M302.0 195.9v3.2" stroke="#55bbbb" stroke-width="0.6"/>
<path d="M302.1 203.0h3.2M303.7 201.4v3.2" stroke="#55bbbb" stroke-width="0.6"/>
<path d="M303.8 198.6h3.2M305.4 197.0v3.2" stroke="#55bbbb" stroke-width="0.6"/>
<path d="M305.5 198.7h3.2M307.1 197.1v3.2" stroke="#55bbbb" stroke-width="0.6"/>
<path d="M307.2 203.8h3.2M308.8 202.2v3.2" stroke="#55bbbb" stroke-width="0.6"/>
<path d="M308.9 198.9h3.2M310.5 197.3v3.2" stroke="#55bbbb" stroke-width="0.6"/>
<path d="M310.6 195.2h3.2M312.2 193.6v3.2" stroke="#55bbbb" stroke-width="0.6"/>
<path d="M312.3 199.9h3.2M313.9 198.3v3.2" stroke="#55bbbb" stroke-width="0.6"/>
<path d="M314.0 196.9h3.2M315.6 195.3v3.2" stroke="#55bbbb" stroke-width="0.6"/>
<path d="M315.7 202.6h3.2M317.3 201.0v3.2" stroke="#55bbbb" stroke-width="0.6"/>
<path d="M317.4 196.3h3.2M319.0 194.7v3.2" stroke="#55bbbb" stroke-width="0.6"/>
<path d="M319.1 197.7h3.2M320.7 196.1v3.2" stroke="#55bbbb" stroke-width="0.6"/>
<path d="M320.8 195.5h3.2M322.4 193.9v3.2" stroke="#55bbbb" stroke-width="0.6"/>
<path d="M322.5 199.2h3.2M324.1 197.6v3.2" stroke="#55bbbb" stroke-width="0.6"/>
<path d="M324.2 196.8h3.2M325.8 195.2v3.2" stroke="#55bbbb" stroke-width="0.6"/>
<path d="M327.6 198.2h3.2M329.2 196.6v3.2" stroke="#55bbbb" stroke-width="0.6"/>
<path d="M329.3 197.7h3.2M330.9 196.1v3.2" stroke="#55bbbb" stroke-width="0.6"/>
<path d="M331.0 201.1h3.2M332.6 199.5v3.2" stroke="#55bbbb" stroke-width="0.6"/>
<path d="M332.7 201.1h3.2M334.3 199.5v3.2" stroke="#55bbbb" stroke-width="0.6"/>
<path d="M334.4 199.1h3.2M336.0 197.5v3.2" stroke="#55bbbb" stroke-width="0.6"/>
<path d="M336.1 197.0h3.2M337.7 195.4v3.2" stroke="#55bbbb" stroke-width="0.6"/>
<path d="M337.8 196.6h3.2M339.4 195.0v3.2" stroke="#55bbbb" stroke-width="0.6"/>
<polyline points="106.5,201.1 108.2,200.3 109.9,199.5 111.6,197.1 113.3,194.1 115.0,189.2 116.7,175.9 118.4,166.9 120.1,150.1 121.8,138.4 123.5,126.0 125.2,118.6 126.9,110.7 128.6,108.8 130.3,109.7 132.0,112.0 133.7,115.4 135.4,118.6 137.1,121.7 138.8,124.8 140.5,127.8 142.2,130.9 143.9,134.0 145.6,137.2 147.3,140.6 149.0,145.5 150.7,147.9 152.4,150.3 154.1,152.7 155.8,155.2 157.5,157.6 159.2,160.1 160.9,162.5 162.6,165.0 164.3,167.3 166.0,168.7 167.7,170.2 169.4,171.7 171.1,173.4 172.8,177.0 174.5,175.6 176.2,176.8 177.9,178.3 179.6,179.2 181.3,180.3 183.0,182.0 184.7,184.5 186.4,184.0 188.1,184.4 189.8,184.2 191.5,186.9 193.2,187.3 194.9,186.7 196.6,187.5 198.3,189.1 200.0,190.8 201.7,191.0 203.4,191.3 205.1,191.3 206.8,192.5 208.5,192.7 210.2,195.4 211.9,192.6 213.6,193.8 215.3,195.9 217.0,194.9 218.7,197.1 220.4,196.0 222.1,196.4 223.8,195.8 225.5,194.5 227.2,195.2 228.9,200.0 230.6,197.8 232.3,197.9 234.0,198.6 235.7,198.2 237.5,215.0 239.1,197.1 240.8,197.3 242.5,199.6 244.2,197.3 245.9,195.5 247.6,197.8 249.3,197.3 251.0,199.7 252.7,197.1 254.4,196.5 256.1,198.2 257.8,202.4 259.5,199.1 261.2,199.7 262.9,199.5 264.6,200.3 266.3,201.9 268.0,203.3 269.7,195.9 271.4,203.4 273.1,200.0 274.8,199.2 276.5,206.0 278.2,199.6 279.9,204.9 281.6,202.4 283.3,197.4 285.0,201.2 286.7,201.8 288.4,199.7 290.1,194.2 291.8,199.1 293.5,199.5 295.2,197.2 296.9,204.6 298.6,199.4 300.3,199.0 302.0,199.3 303.7,198.0 305.4,198.1 306.7,169.8 308.1,230.0 310.5,198.7 312.2,199.8 313.9,196.5 315.6,201.3 317.3,198.1 319.0,200.5 320.0,214.0 322.4,198.7 324.1,200.5 325.8,197.0 327.5,206.2 329.2,199.9 330.9,199.8 332.6,198.2 334.3,204.0 336.0,203.5 337.7,200.7 339.4,196.6" fill="none" stroke="#10109a" stroke-width="0.9" stroke-linejoin="round"/>
<rect x="104.1" y="200.0" width="4.8" height="2.2" fill="#10109a"/>
<rect x="105.8" y="199.2" width="4.8" height="2.2" fill="#10109a"/>
<rect x="107.5" y="198.4" width="4.8" height="2.2" fill="#10109a"/>
<rect x="109.2" y="196.0" width="4.8" height="2.2" fill="#10109a"/>
<rect x="110.9" y="193.0" width="4.8" height="2.2" fill="#10109a"/>
<rect x="112.6" y="188.1" width="4.8" height="2.2" fill="#10109a"/>
<rect x="114.3" y="174.8" width="4.8" height="2.2" fill="#10109a"/>
<rect x="116.0" y="165.8" width="4.8" height="2.2" fill="#10109a"/>
<rect x="117.7" y="149.0" width="4.8" height="2.2" fill="#10109a"/>
<rect x="119.4" y="137.3" width="4.8" height="2.2" fill="#10109a"/>
<rect x="121.1" y="124.9" width="4.8" height="2.2" fill="#10109a"/>
<rect x="122.8" y="117.5" width="4.8" height="2.2" fill="#10109a"/>
<rect x="124.5" y="109.6" width="4.8" height="2.2" fill="#10109a"/>
<rect x="126.2" y="107.7" width="4.8" height="2.2" fill="#10109a"/>
<rect x="127.9" y="108.6" width="4.8" height="2.2" fill="#10109a"/>
<rect x="129.6" y="110.9" width="4.8" height="2.2" fill="#10109a"/>
<rect x="131.3" y="114.3" width="4.8" height="2.2" fill="#10109a"/>
<rect x="133.0" y="117.5" width="4.8" height="2.2" fill="#10109a"/>
<rect x="134.7" y="120.6" width="4.8" height="2.2" fill="#10109a"/>
<rect x="136.4" y="123.7" width="4.8" height="2.2" fill="#10109a"/>
<rect x="138.1" y="126.8" width="4.8" height="2.2" fill="#10109a"/>
<rect x="139.8" y="129.8" width="4.8" height="2.2" fill="#10109a"/>
<rect x="141.5" y="132.9" width="4.8" height="2.2" fill="#10109a"/>
<rect x="143.2" y="136.1" width="4.8" height="2.2" fill="#10109a"/>
<rect x="144.9" y="139.5" width="4.8" height="2.2" fill="#10109a"/>
<rect x="146.6" y="144.4" width="4.8" height="2.2" fill="#10109a"/>
<rect x="148.3" y="146.8" width="4.8" height="2.2" fill="#10109a"/>
<rect x="150.0" y="149.2" width="4.8" height="2.2" fill="#10109a"/>
<rect x="151.7" y="151.6" width="4.8" height="2.2" fill="#10109a"/>
<rect x="153.4" y="154.1" width="4.8" height="2.2" fill="#10109a"/>
<rect x="155.1" y="156.5" width="4.8" height="2.2" fill="#10109a"/>
<rect x="156.8" y="159.0" width="4.8" height="2.2" fill="#10109a"/>
<rect x="158.5" y="161.4" width="4.8" height="2.2" fill="#10109a"/>
<rect x="160.2" y="163.9" width="4.8" height="2.2" fill="#10109a"/>
<rect x="161.9" y="166.2" width="4.8" height="2.2" fill="#10109a"/>
<rect x="163.6" y="167.6" width="4.8" height="2.2" fill="#10109a"/>
<rect x="165.3" y="169.1" width="4.8" height="2.2" fill="#10109a"/>
<rect x="167.0" y="170.6" width="4.8" height="2.2" fill="#10109a"/>
<rect x="168.7" y="172.3" width="4.8" height="2.2" fill="#10109a"/>
<rect x="170.4" y="175.9" width="4.8" height="2.2" fill="#10109a"/>
<rect x="172.1" y="174.5" width="4.8" height="2.2" fill="#10109a"/>
<rect x="173.8" y="175.7" width="4.8" height="2.2" fill="#10109a"/>
<rect x="175.5" y="177.2" width="4.8" height="2.2" fill="#10109a"/>
<rect x="177.2" y="178.1" width="4.8" height="2.2" fill="#10109a"/>
<rect x="178.9" y="179.2" width="4.8" height="2.2" fill="#10109a"/>
<rect x="180.6" y="180.9" width="4.8" height="2.2" fill="#10109a"/>
<rect x="182.3" y="183.4" width="4.8" height="2.2" fill="#10109a"/>
<rect x="184.0" y="182.9" width="4.8" height="2.2" fill="#10109a"/>
<rect x="185.7" y="183.3" width="4.8" height="2.2" fill="#10109a"/>
<rect x="187.4" y="183.1" width="4.8" height="2.2" fill="#10109a"/>
<rect x="189.1" y="185.8" width="4.8" height="2.2" fill="#10109a"/>
<rect x="190.8" y="186.2" width="4.8" height="2.2" fill="#10109a"/>
<rect x="192.5" y="185.6" width="4.8" height="2.2" fill="#10109a"/>
<rect x="194.2" y="186.4" width="4.8" height="2.2" fill="#10109a"/>
<rect x="195.9" y="188.0" width="4.8" height="2.2" fill="#10109a"/>
<rect x="197.6" y="189.7" width="4.8" height="2.2" fill="#10109a"/>
<rect x="199.3" y="189.9" width="4.8" height="2.2" fill="#10109a"/>
<rect x="201.0" y="190.2" width="4.8" height="2.2" fill="#10109a"/>
<rect x="202.7" y="190.2" width="4.8" height="2.2" fill="#10109a"/>
<rect x="204.4" y="191.4" width="4.8" height="2.2" fill="#10109a"/>
<rect x="206.1" y="191.6" width="4.8" height="2.2" fill="#10109a"/>
<rect x="207.8" y="194.3" width="4.8" height="2.2" fill="#10109a"/>
<rect x="209.5" y="191.5" width="4.8" height="2.2" fill="#10109a"/>
<rect x="211.2" y="192.7" width="4.8" height="2.2" fill="#10109a"/>
<rect x="212.9" y="194.8" width="4.8" height="2.2" fill="#10109a"/>
<rect x="214.6" y="193.8" width="4.8" height="2.2" fill="#10109a"/>
<rect x="216.3" y="196.0" width="4.8" height="2.2" fill="#10109a"/>
<rect x="218.0" y="194.9" width="4.8" height="2.2" fill="#10109a"/>
<rect x="219.7" y="195.3" width="4.8" height="2.2" fill="#10109a"/>
<rect x="221.4" y="194.7" width="4.8" height="2.2" fill="#10109a"/>
<rect x="223.1" y="193.4" width="4.8" height="2.2" fill="#10109a"/>
<rect x="224.8" y="194.1" width="4.8" height="2.2" fill="#10109a"/>
<rect x="226.5" y="198.9" width="4.8" height="2.2" fill="#10109a"/>
<rect x="228.2" y="196.7" width="4.8" height="2.2" fill="#10109a"/>
<rect x="229.9" y="196.8" width="4.8" height="2.2" fill="#10109a"/>
<rect x="231.6" y="197.5" width="4.8" height="2.2" fill="#10109a"/>
<rect x="233.3" y="197.1" width="4.8" height="2.2" fill="#10109a"/>
<rect x="236.7" y="196.0" width="4.8" height="2.2" fill="#10109a"/>
<rect x="238.4" y="196.2" width="4.8" height="2.2" fill="#10109a"/>
<rect x="240.1" y="198.5" width="4.8" height="2.2" fill="#10109a"/>
<rect x="241.8" y="196.2" width="4.8" height="2.2" fill="#10109a"/>
<rect x="243.5" y="194.4" width="4.8" height="2.2" fill="#10109a"/>
<rect x="245.2" y="196.7" width="4.8" height="2.2" fill="#10109a"/>
<rect x="246.9" y="196.2" width="4.8" height="2.2" fill="#10109a"/>
<rect x="248.6" y="198.6" width="4.8" height="2.2" fill="#10109a"/>
<rect x="250.3" y="196.0" width="4.8" height="2.2" fill="#10109a"/>
<rect x="252.0" y="195.4" width="4.8" height="2.2" fill="#10109a"/>
<rect x="253.7" y="197.1" width="4.8" height="2.2" fill="#10109a"/>
<rect x="255.4" y="201.3" width="4.8" height="2.2" fill="#10109a"/>
<rect x="257.1" y="198.0" width="4.8" height="2.2" fill="#10109a"/>
<rect x="258.8" y="198.6" width="4.8" height="2.2" fill="#10109a"/>
<rect x="260.5" y="198.4" width="4.8" height="2.2" fill="#10109a"/>
<rect x="262.2" y="199.2" width="4.8" height="2.2" fill="#10109a"/>
<rect x="263.9" y="200.8" width="4.8" height="2.2" fill="#10109a"/>
<rect x="265.6" y="202.2" width="4.8" height="2.2" fill="#10109a"/>
<rect x="267.3" y="194.8" width="4.8" height="2.2" fill="#10109a"/>
<rect x="269.0" y="202.3" width="4.8" height="2.2" fill="#10109a"/>
<rect x="270.7" y="198.9" width="4.8" height="2.2" fill="#10109a"/>
<rect x="272.4" y="198.1" width="4.8" height="2.2" fill="#10109a"/>
<rect x="274.1" y="204.9" width="4.8" height="2.2" fill="#10109a"/>
<rect x="275.8" y="198.5" width="4.8" height="2.2" fill="#10109a"/>
<rect x="277.5" y="203.8" width="4.8" height="2.2" fill="#10109a"/>
<rect x="279.2" y="201.3" width="4.8" height="2.2" fill="#10109a"/>
<rect x="280.9" y="196.3" width="4.8" height="2.2" fill="#10109a"/>
<rect x="282.6" y="200.1" width="4.8" height="2.2" fill="#10109a"/>
<rect x="284.3" y="200.7" width="4.8" height="2.2" fill="#10109a"/>
<rect x="286.0" y="198.6" width="4.8" height="2.2" fill="#10109a"/>
<rect x="287.7" y="193.1" width="4.8" height="2.2" fill="#10109a"/>
<rect x="289.4" y="198.0" width="4.8" height="2.2" fill="#10109a"/>
<rect x="291.1" y="198.4" width="4.8" height="2.2" fill="#10109a"/>
<rect x="292.8" y="196.1" width="4.8" height="2.2" fill="#10109a"/>
<rect x="294.5" y="203.5" width="4.8" height="2.2" fill="#10109a"/>
<rect x="296.2" y="198.3" width="4.8" height="2.2" fill="#10109a"/>
<rect x="297.9" y="197.9" width="4.8" height="2.2" fill="#10109a"/>
<rect x="299.6" y="198.2" width="4.8" height="2.2" fill="#10109a"/>
<rect x="301.3" y="196.9" width="4.8" height="2.2" fill="#10109a"/>
<rect x="303.0" y="197.0" width="4.8" height="2.2" fill="#10109a"/>
<rect x="304.3" y="168.7" width="4.8" height="2.2" fill="#10109a"/>
<rect x="308.1" y="197.6" width="4.8" height="2.2" fill="#10109a"/>
<rect x="309.8" y="198.7" width="4.8" height="2.2" fill="#10109a"/>
<rect x="311.5" y="195.4" width="4.8" height="2.2" fill="#10109a"/>
<rect x="313.2" y="200.2" width="4.8" height="2.2" fill="#10109a"/>
<rect x="314.9" y="197.0" width="4.8" height="2.2" fill="#10109a"/>
<rect x="316.6" y="199.4" width="4.8" height="2.2" fill="#10109a"/>
<rect x="320.0" y="197.6" width="4.8" height="2.2" fill="#10109a"/>
<rect x="321.7" y="199.4" width="4.8" height="2.2" fill="#10109a"/>
<rect x="323.4" y="195.9" width="4.8" height="2.2" fill="#10109a"/>
<rect x="326.8" y="198.8" width="4.8" height="2.2" fill="#10109a"/>
<rect x="328.5" y="198.7" width="4.8" height="2.2" fill="#10109a"/>
<rect x="330.2" y="197.1" width="4.8" height="2.2" fill="#10109a"/>
<rect x="331.9" y="202.9" width="4.8" height="2.2" fill="#10109a"/>
<rect x="333.6" y="202.4" width="4.8" height="2.2" fill="#10109a"/>
<rect x="335.3" y="199.6" width="4.8" height="2.2" fill="#10109a"/>
<rect x="337.0" y="195.5" width="4.8" height="2.2" fill="#10109a"/>
<polyline points="106.5,201.2 108.2,200.4 109.9,197.8 111.6,193.5 113.3,187.6 115.0,174.0 116.7,146.8 118.4,131.7 120.1,119.5 121.8,108.9 123.5,101.8 125.2,97.6 126.9,95.4 128.6,96.7 130.3,100.0 132.0,104.0 133.7,106.1 135.4,109.2 137.1,114.3 138.8,117.8 140.5,124.6 142.2,127.9 143.9,131.3 145.6,134.8 147.3,138.3 149.0,142.2 150.7,146.4 152.4,150.6 154.1,154.8 155.8,158.5 157.5,161.7 159.2,164.9 160.9,168.1 162.6,171.4 164.3,174.3 166.0,175.9 167.7,177.5 169.4,179.0 171.1,180.1 172.8,182.8 174.5,183.3 176.2,184.2 177.9,185.8 179.6,187.5 181.3,189.0 183.0,189.0 184.7,190.4 186.4,193.9 188.1,193.6 189.8,191.5 191.5,193.5 193.2,193.7 194.9,193.9 196.6,195.5 198.3,194.6 200.0,195.1 201.7,195.5 203.4,196.2 205.1,198.0 206.8,197.9 208.5,195.4 210.2,196.4 211.9,196.0 213.6,198.1 215.3,197.3 217.0,198.2 218.7,196.9 220.4,194.1 222.1,197.6 223.8,197.3 225.5,197.7 226.5,181.9 228.9,197.0 230.6,195.7 232.3,195.7 234.0,197.5 235.7,197.5 237.4,195.2 239.1,193.6 240.8,192.0 242.5,195.7 244.2,199.1 245.9,196.7 247.6,192.1 249.3,195.0 251.0,197.7 252.7,200.5 254.8,183.3 256.1,197.6 257.8,197.3 259.5,194.4 261.2,195.8 262.9,196.0 264.6,195.0 265.7,183.3 268.0,195.9 269.7,197.6 270.6,172.7 273.1,198.5 274.8,197.8 276.5,196.2 278.2,193.3 279.9,196.5 281.6,198.1 283.3,194.5 285.0,199.7 286.7,196.0 288.4,197.7 290.1,196.0 291.8,193.9 293.5,201.6 295.2,194.1 296.9,198.9 298.6,195.5 300.3,197.4 302.0,194.9 303.7,195.8 305.4,198.9 307.1,201.3 308.8,194.9 310.5,196.8 312.2,199.0 313.9,195.3 315.6,198.4 316.7,184.8 319.0,198.2 320.7,197.8 322.4,199.6 324.1,197.6 325.8,194.1 326.8,187.6 329.2,194.3 330.9,198.5 332.6,200.3 334.3,198.2 336.0,195.5 337.8,190.5 339.4,197.2" fill="none" stroke="#33c4f4" stroke-width="0.9" stroke-linejoin="round"/>
<rect x="104.1" y="200.1" width="4.8" height="2.2" fill="#33c4f4"/>
<rect x="105.8" y="199.3" width="4.8" height="2.2" fill="#33c4f4"/>
<rect x="107.5" y="196.7" width="4.8" height="2.2" fill="#33c4f4"/>
<rect x="109.2" y="192.4" width="4.8" height="2.2" fill="#33c4f4"/>
<rect x="110.9" y="186.5" width="4.8" height="2.2" fill="#33c4f4"/>
<rect x="112.6" y="172.9" width="4.8" height="2.2" fill="#33c4f4"/>
<rect x="114.3" y="145.7" width="4.8" height="2.2" fill="#33c4f4"/>
<rect x="116.0" y="130.6" width="4.8" height="2.2" fill="#33c4f4"/>
<rect x="117.7" y="118.4" width="4.8" height="2.2" fill="#33c4f4"/>
<rect x="119.4" y="107.8" width="4.8" height="2.2" fill="#33c4f4"/>
<rect x="121.1" y="100.7" width="4.8" height="2.2" fill="#33c4f4"/>
<rect x="122.8" y="96.5" width="4.8" height="2.2" fill="#33c4f4"/>
<rect x="124.5" y="94.3" width="4.8" height="2.2" fill="#33c4f4"/>
<rect x="126.2" y="95.6" width="4.8" height="2.2" fill="#33c4f4"/>
<rect x="127.9" y="98.9" width="4.8" height="2.2" fill="#33c4f4"/>
<rect x="129.6" y="102.9" width="4.8" height="2.2" fill="#33c4f4"/>
<rect x="131.3" y="105.0" width="4.8" height="2.2" fill="#33c4f4"/>
<rect x="133.0" y="108.1" width="4.8" height="2.2" fill="#33c4f4"/>
<rect x="134.7" y="113.2" width="4.8" height="2.2" fill="#33c4f4"/>
<rect x="136.4" y="116.7" width="4.8" height="2.2" fill="#33c4f4"/>
<rect x="138.1" y="123.5" width="4.8" height="2.2" fill="#33c4f4"/>
<rect x="139.8" y="126.8" width="4.8" height="2.2" fill="#33c4f4"/>
<rect x="141.5" y="130.2" width="4.8" height="2.2" fill="#33c4f4"/>
<rect x="143.2" y="133.7" width="4.8" height="2.2" fill="#33c4f4"/>
<rect x="144.9" y="137.2" width="4.8" height="2.2" fill="#33c4f4"/>
<rect x="146.6" y="141.2" width="4.8" height="2.2" fill="#33c4f4"/>
<rect x="148.3" y="145.3" width="4.8" height="2.2" fill="#33c4f4"/>
<rect x="150.0" y="149.5" width="4.8" height="2.2" fill="#33c4f4"/>
<rect x="151.7" y="153.7" width="4.8" height="2.2" fill="#33c4f4"/>
<rect x="153.4" y="157.4" width="4.8" height="2.2" fill="#33c4f4"/>
<rect x="155.1" y="160.6" width="4.8" height="2.2" fill="#33c4f4"/>
<rect x="156.8" y="163.8" width="4.8" height="2.2" fill="#33c4f4"/>
<rect x="158.5" y="167.0" width="4.8" height="2.2" fill="#33c4f4"/>
<rect x="160.2" y="170.3" width="4.8" height="2.2" fill="#33c4f4"/>
<rect x="161.9" y="173.2" width="4.8" height="2.2" fill="#33c4f4"/>
<rect x="163.6" y="174.8" width="4.8" height="2.2" fill="#33c4f4"/>
<rect x="165.3" y="176.4" width="4.8" height="2.2" fill="#33c4f4"/>
<rect x="167.0" y="177.9" width="4.8" height="2.2" fill="#33c4f4"/>
<rect x="168.7" y="179.0" width="4.8" height="2.2" fill="#33c4f4"/>
<rect x="170.4" y="181.7" width="4.8" height="2.2" fill="#33c4f4"/>
<rect x="172.1" y="182.2" width="4.8" height="2.2" fill="#33c4f4"/>
<rect x="173.8" y="183.1" width="4.8" height="2.2" fill="#33c4f4"/>
<rect x="175.5" y="184.7" width="4.8" height="2.2" fill="#33c4f4"/>
<rect x="177.2" y="186.4" width="4.8" height="2.2" fill="#33c4f4"/>
<rect x="178.9" y="187.9" width="4.8" height="2.2" fill="#33c4f4"/>
<rect x="180.6" y="187.9" width="4.8" height="2.2" fill="#33c4f4"/>
<rect x="182.3" y="189.3" width="4.8" height="2.2" fill="#33c4f4"/>
<rect x="184.0" y="192.8" width="4.8" height="2.2" fill="#33c4f4"/>
<rect x="185.7" y="192.5" width="4.8" height="2.2" fill="#33c4f4"/>
<rect x="187.4" y="190.4" width="4.8" height="2.2" fill="#33c4f4"/>
<rect x="189.1" y="192.4" width="4.8" height="2.2" fill="#33c4f4"/>
<rect x="190.8" y="192.6" width="4.8" height="2.2" fill="#33c4f4"/>
<rect x="192.5" y="192.8" width="4.8" height="2.2" fill="#33c4f4"/>
<rect x="194.2" y="194.4" width="4.8" height="2.2" fill="#33c4f4"/>
<rect x="195.9" y="193.5" width="4.8" height="2.2" fill="#33c4f4"/>
<rect x="197.6" y="194.0" width="4.8" height="2.2" fill="#33c4f4"/>
<rect x="199.3" y="194.4" width="4.8" height="2.2" fill="#33c4f4"/>
<rect x="201.0" y="195.1" width="4.8" height="2.2" fill="#33c4f4"/>
<rect x="202.7" y="196.9" width="4.8" height="2.2" fill="#33c4f4"/>
<rect x="204.4" y="196.8" width="4.8" height="2.2" fill="#33c4f4"/>
<rect x="206.1" y="194.3" width="4.8" height="2.2" fill="#33c4f4"/>
<rect x="207.8" y="195.3" width="4.8" height="2.2" fill="#33c4f4"/>
<rect x="209.5" y="194.9" width="4.8" height="2.2" fill="#33c4f4"/>
<rect x="211.2" y="197.0" width="4.8" height="2.2" fill="#33c4f4"/>
<rect x="212.9" y="196.2" width="4.8" height="2.2" fill="#33c4f4"/>
<rect x="214.6" y="197.1" width="4.8" height="2.2" fill="#33c4f4"/>
<rect x="216.3" y="195.8" width="4.8" height="2.2" fill="#33c4f4"/>
<rect x="218.0" y="193.0" width="4.8" height="2.2" fill="#33c4f4"/>
<rect x="219.7" y="196.5" width="4.8" height="2.2" fill="#33c4f4"/>
<rect x="221.4" y="196.2" width="4.8" height="2.2" fill="#33c4f4"/>
<rect x="223.1" y="196.6" width="4.8" height="2.2" fill="#33c4f4"/>
<rect x="224.1" y="180.8" width="4.8" height="2.2" fill="#33c4f4"/>
<rect x="226.5" y="195.9" width="4.8" height="2.2" fill="#33c4f4"/>
<rect x="228.2" y="194.6" width="4.8" height="2.2" fill="#33c4f4"/>
<rect x="229.9" y="194.6" width="4.8" height="2.2" fill="#33c4f4"/>
<rect x="231.6" y="196.4" width="4.8" height="2.2" fill="#33c4f4"/>
<rect x="233.3" y="196.4" width="4.8" height="2.2" fill="#33c4f4"/>
<rect x="235.0" y="194.1" width="4.8" height="2.2" fill="#33c4f4"/>
<rect x="236.7" y="192.5" width="4.8" height="2.2" fill="#33c4f4"/>
<rect x="238.4" y="190.9" width="4.8" height="2.2" fill="#33c4f4"/>
<rect x="240.1" y="194.6" width="4.8" height="2.2" fill="#33c4f4"/>
<rect x="241.8" y="198.0" width="4.8" height="2.2" fill="#33c4f4"/>
<rect x="243.5" y="195.6" width="4.8" height="2.2" fill="#33c4f4"/>
<rect x="245.2" y="191.0" width="4.8" height="2.2" fill="#33c4f4"/>
<rect x="246.9" y="193.9" width="4.8" height="2.2" fill="#33c4f4"/>
<rect x="248.6" y="196.6" width="4.8" height="2.2" fill="#33c4f4"/>
<rect x="250.3" y="199.4" width="4.8" height="2.2" fill="#33c4f4"/>
<rect x="252.4" y="182.2" width="4.8" height="2.2" fill="#33c4f4"/>
<rect x="253.7" y="196.5" width="4.8" height="2.2" fill="#33c4f4"/>
<rect x="255.4" y="196.2" width="4.8" height="2.2" fill="#33c4f4"/>
<rect x="257.1" y="193.3" width="4.8" height="2.2" fill="#33c4f4"/>
<rect x="258.8" y="194.7" width="4.8" height="2.2" fill="#33c4f4"/>
<rect x="260.5" y="194.9" width="4.8" height="2.2" fill="#33c4f4"/>
<rect x="262.2" y="193.9" width="4.8" height="2.2" fill="#33c4f4"/>
<rect x="263.3" y="182.2" width="4.8" height="2.2" fill="#33c4f4"/>
<rect x="265.6" y="194.8" width="4.8" height="2.2" fill="#33c4f4"/>
<rect x="267.3" y="196.5" width="4.8" height="2.2" fill="#33c4f4"/>
<rect x="268.2" y="171.6" width="4.8" height="2.2" fill="#33c4f4"/>
<rect x="270.7" y="197.4" width="4.8" height="2.2" fill="#33c4f4"/>
<rect x="272.4" y="196.7" width="4.8" height="2.2" fill="#33c4f4"/>
<rect x="274.1" y="195.1" width="4.8" height="2.2" fill="#33c4f4"/>
<rect x="275.8" y="192.2" width="4.8" height="2.2" fill="#33c4f4"/>
<rect x="277.5" y="195.4" width="4.8" height="2.2" fill="#33c4f4"/>
<rect x="279.2" y="197.0" width="4.8" height="2.2" fill="#33c4f4"/>
<rect x="280.9" y="193.4" width="4.8" height="2.2" fill="#33c4f4"/>
<rect x="282.6" y="198.6" width="4.8" height="2.2" fill="#33c4f4"/>
<rect x="284.3" y="194.9" width="4.8" height="2.2" fill="#33c4f4"/>
<rect x="286.0" y="196.6" width="4.8" height="2.2" fill="#33c4f4"/>
<rect x="287.7" y="194.9" width="4.8" height="2.2" fill="#33c4f4"/>
<rect x="289.4" y="192.8" width="4.8" height="2.2" fill="#33c4f4"/>
<rect x="291.1" y="200.5" width="4.8" height="2.2" fill="#33c4f4"/>
<rect x="292.8" y="193.0" width="4.8" height="2.2" fill="#33c4f4"/>
<rect x="294.5" y="197.8" width="4.8" height="2.2" fill="#33c4f4"/>
<rect x="296.2" y="194.4" width="4.8" height="2.2" fill="#33c4f4"/>
<rect x="297.9" y="196.3" width="4.8" height="2.2" fill="#33c4f4"/>
<rect x="299.6" y="193.8" width="4.8" height="2.2" fill="#33c4f4"/>
<rect x="301.3" y="194.7" width="4.8" height="2.2" fill="#33c4f4"/>
<rect x="303.0" y="197.8" width="4.8" height="2.2" fill="#33c4f4"/>
<rect x="304.7" y="200.2" width="4.8" height="2.2" fill="#33c4f4"/>
<rect x="306.4" y="193.8" width="4.8" height="2.2" fill="#33c4f4"/>
<rect x="308.1" y="195.7" width="4.8" height="2.2" fill="#33c4f4"/>
<rect x="309.8" y="197.9" width="4.8" height="2.2" fill="#33c4f4"/>
<rect x="311.5" y="194.2" width="4.8" height="2.2" fill="#33c4f4"/>
<rect x="313.2" y="197.3" width="4.8" height="2.2" fill="#33c4f4"/>
<rect x="314.3" y="183.7" width="4.8" height="2.2" fill="#33c4f4"/>
<rect x="316.6" y="197.1" width="4.8" height="2.2" fill="#33c4f4"/>
<rect x="318.3" y="196.7" width="4.8" height="2.2" fill="#33c4f4"/>
<rect x="320.0" y="198.5" width="4.8" height="2.2" fill="#33c4f4"/>
<rect x="321.7" y="196.5" width="4.8" height="2.2" fill="#33c4f4"/>
<rect x="323.4" y="193.0" width="4.8" height="2.2" fill="#33c4f4"/>
<rect x="324.4" y="186.5" width="4.8" height="2.2" fill="#33c4f4"/>
<rect x="326.8" y="193.2" width="4.8" height="2.2" fill="#33c4f4"/>
<rect x="328.5" y="197.4" width="4.8" height="2.2" fill="#33c4f4"/>
<rect x="330.2" y="199.2" width="4.8" height="2.2" fill="#33c4f4"/>
<rect x="331.9" y="197.1" width="4.8" height="2.2" fill="#33c4f4"/>
<rect x="333.6" y="194.4" width="4.8" height="2.2" fill="#33c4f4"/>
<rect x="335.4" y="189.4" width="4.8" height="2.2" fill="#33c4f4"/>
<rect x="337.0" y="196.1" width="4.8" height="2.2" fill="#33c4f4"/>
<rect x="348.7" y="23.6" width="151.9" height="248.7" fill="#fff" stroke="#8c8c8c" stroke-width="1.2"/>
<line x1="353.20" y1="34.70" x2="374.60" y2="34.70" stroke="#ffff00" stroke-width="1.0" stroke-opacity="0.6"/>
<path d="M363.8 31.7L366.5 36.6L361.1 36.6Z" fill="#ffff00"/>
<text x="377.20" y="37.80" font-size="13.4" font-weight="bold" text-anchor="start" fill="#000" textLength="70.60" lengthAdjust="spacingAndGlyphs" >5 pM TF + 1</text>
<text x="453.40" y="37.80" font-size="13" font-weight="normal" text-anchor="start" fill="#000" font-family="Liberation Serif, serif">&#956;</text>
<text x="459.40" y="37.80" font-size="13.4" font-weight="bold" text-anchor="start" fill="#000" textLength="33.40" lengthAdjust="spacingAndGlyphs" >M PL</text>
<text x="377.50" y="70.40" font-size="10.5" font-weight="bold" text-anchor="start" fill="#000" >+</text>
<text x="385.60" y="70.70" font-size="10.5" font-weight="bold" text-anchor="start" fill="#000" textLength="83.60" lengthAdjust="spacingAndGlyphs" >100 µg/ml 23H9</text>
<line x1="353.20" y1="69.40" x2="374.60" y2="69.40" stroke="#66eedd" stroke-width="1.0" stroke-opacity="0.6"/>
<path d="M362.4 68.0l2.8 2.8M362.4 70.8l2.8 -2.8" stroke="#66eedd" stroke-width="0.8"/>
<text x="392.00" y="88.10" font-size="10.5" font-weight="bold" text-anchor="start" fill="#000" textLength="73.20" lengthAdjust="spacingAndGlyphs" >40 µg/ml 28F4</text>
<text x="377.10" y="104.70" font-size="10.5" font-weight="bold" text-anchor="start" fill="#000" >+</text>
<text x="394.00" y="105.00" font-size="10.5" font-weight="bold" text-anchor="start" fill="#000" textLength="75.20" lengthAdjust="spacingAndGlyphs" >50 µg/ml 23H9</text>
<line x1="353.20" y1="104.30" x2="374.60" y2="104.30" stroke="#9933aa" stroke-width="1.0" stroke-opacity="0.6"/>
<path d="M362.4 102.9l2.8 2.8M362.4 105.7l2.8 -2.8" stroke="#9933aa" stroke-width="0.8"/>
<text x="392.00" y="122.40" font-size="10.5" font-weight="bold" text-anchor="start" fill="#000" textLength="73.20" lengthAdjust="spacingAndGlyphs" >20 µg/ml 28F4</text>
<text x="377.10" y="139.90" font-size="10.5" font-weight="bold" text-anchor="start" fill="#000" >+</text>
<text x="392.00" y="140.20" font-size="10.5" font-weight="bold" text-anchor="start" fill="#000" textLength="77.20" lengthAdjust="spacingAndGlyphs" >25 µg/ml 23H9</text>
<line x1="353.20" y1="139.50" x2="374.60" y2="139.50" stroke="#880000" stroke-width="1.0" stroke-opacity="0.6"/>
<circle cx="363.8" cy="139.5" r="2.3" fill="#880000"/>
<text x="392.60" y="157.50" font-size="10.5" font-weight="bold" text-anchor="start" fill="#000" textLength="72.60" lengthAdjust="spacingAndGlyphs" >10 µg/ml 28F4</text>
<text x="377.10" y="174.50" font-size="10.5" font-weight="bold" text-anchor="start" fill="#000" >+</text>
<text x="392.60" y="174.80" font-size="10.5" font-weight="bold" text-anchor="start" fill="#000" textLength="76.60" lengthAdjust="spacingAndGlyphs" >10 µg/ml 23H9</text>
<line x1="353.20" y1="173.80" x2="374.60" y2="173.80" stroke="#55bbbb" stroke-width="1.0" stroke-opacity="0.6"/>
<path d="M362.2 173.8h3.2M363.8 172.2v3.2" stroke="#55bbbb" stroke-width="0.6"/>
<text x="399.30" y="192.30" font-size="10.5" font-weight="bold" text-anchor="start" fill="#000" textLength="65.90" lengthAdjust="spacingAndGlyphs" >4 µg/ml 28F4</text>
<text x="377.10" y="209.80" font-size="10.5" font-weight="bold" text-anchor="start" fill="#000" >+</text>
<text x="399.30" y="210.10" font-size="10.5" font-weight="bold" text-anchor="start" fill="#000" textLength="69.30" lengthAdjust="spacingAndGlyphs" >5 ug/ml 23H9</text>
<line x1="353.20" y1="209.40" x2="374.60" y2="209.40" stroke="#10109a" stroke-width="1.0" stroke-opacity="0.6"/>
<rect x="361.4" y="208.3" width="4.8" height="2.2" fill="#10109a"/>
<text x="397.70" y="227.40" font-size="10.5" font-weight="bold" text-anchor="start" fill="#000" textLength="67.00" lengthAdjust="spacingAndGlyphs" >2 µg/ml 28F4</text>
<text x="380.50" y="244.80" font-size="10.5" font-weight="bold" text-anchor="start" fill="#000" >+</text>
<text x="395.70" y="245.10" font-size="10.5" font-weight="bold" text-anchor="start" fill="#000" textLength="77.50" lengthAdjust="spacingAndGlyphs" >2.5 µg/ml 23H9</text>
<line x1="353.20" y1="244.20" x2="374.60" y2="244.20" stroke="#33c4f4" stroke-width="1.0" stroke-opacity="0.6"/>
<rect x="361.4" y="243.1" width="4.8" height="2.2" fill="#33c4f4"/>
<text x="396.10" y="262.30" font-size="10.5" font-weight="bold" text-anchor="start" fill="#000" textLength="67.40" lengthAdjust="spacingAndGlyphs" >1 µg/ml 28F4</text>
<text x="2.50" y="321.60" font-size="17.5" font-weight="bold" text-anchor="start" fill="#000" textLength="13.00" lengthAdjust="spacingAndGlyphs" >B</text>
<line x1="37.70" y1="331.70" x2="37.70" y2="478.60" stroke="#000" stroke-width="2.2" />
<line x1="31.80" y1="477.50" x2="256.00" y2="477.50" stroke="#000" stroke-width="2.2" />
<line x1="31.80" y1="477.50" x2="37.70" y2="477.50" stroke="#000" stroke-width="2.0" />
<text x="30.80" y="481.10" font-size="10.5" font-weight="bold" text-anchor="end" fill="#000" >0.0</text>
<line x1="42.10" y1="477.50" x2="42.10" y2="483.00" stroke="#000" stroke-width="2.0" />
<text x="42.10" y="493.20" font-size="10.5" font-weight="bold" text-anchor="middle" fill="#000" >0.0</text>
<line x1="31.80" y1="450.02" x2="37.70" y2="450.02" stroke="#000" stroke-width="2.0" />
<text x="30.80" y="453.62" font-size="10.5" font-weight="bold" text-anchor="end" fill="#000" >0.2</text>
<line x1="83.40" y1="477.50" x2="83.40" y2="483.00" stroke="#000" stroke-width="2.0" />
<text x="83.40" y="493.20" font-size="10.5" font-weight="bold" text-anchor="middle" fill="#000" >0.2</text>
<line x1="31.80" y1="422.54" x2="37.70" y2="422.54" stroke="#000" stroke-width="2.0" />
<text x="30.80" y="426.14" font-size="10.5" font-weight="bold" text-anchor="end" fill="#000" >0.4</text>
<line x1="124.70" y1="477.50" x2="124.70" y2="483.00" stroke="#000" stroke-width="2.0" />
<text x="124.70" y="493.20" font-size="10.5" font-weight="bold" text-anchor="middle" fill="#000" >0.4</text>
<line x1="31.80" y1="395.06" x2="37.70" y2="395.06" stroke="#000" stroke-width="2.0" />
<text x="30.80" y="398.66" font-size="10.5" font-weight="bold" text-anchor="end" fill="#000" >0.6</text>
<line x1="166.00" y1="477.50" x2="166.00" y2="483.00" stroke="#000" stroke-width="2.0" />
<text x="166.00" y="493.20" font-size="10.5" font-weight="bold" text-anchor="middle" fill="#000" >0.6</text>
<line x1="31.80" y1="367.58" x2="37.70" y2="367.58" stroke="#000" stroke-width="2.0" />
<text x="30.80" y="371.18" font-size="10.5" font-weight="bold" text-anchor="end" fill="#000" >0.8</text>
<line x1="207.30" y1="477.50" x2="207.30" y2="483.00" stroke="#000" stroke-width="2.0" />
<text x="207.30" y="493.20" font-size="10.5" font-weight="bold" text-anchor="middle" fill="#000" >0.8</text>
<line x1="31.80" y1="340.10" x2="37.70" y2="340.10" stroke="#000" stroke-width="2.0" />
<text x="30.80" y="343.70" font-size="10.5" font-weight="bold" text-anchor="end" fill="#000" >1.0</text>
<line x1="248.60" y1="477.50" x2="248.60" y2="483.00" stroke="#000" stroke-width="2.0" />
<text x="248.60" y="493.20" font-size="10.5" font-weight="bold" text-anchor="middle" fill="#000" >1.0</text>
<text x="9.40" y="406.20" font-size="12.3" font-weight="bold" text-anchor="middle" fill="#000" textLength="131.80" lengthAdjust="spacingAndGlyphs" transform="rotate(-90 9.40 406.20)" >Normalized PH/LT ratio</text>
<text x="146.40" y="509.50" font-size="11" font-weight="bold" text-anchor="middle" fill="#000" textLength="60.50" lengthAdjust="spacingAndGlyphs" >LAC&#160; Units</text>
<polyline points="42.31,340.10 49.12,368.40 55.32,394.37 68.33,423.50 93.93,453.32 145.35,465.55 248.60,472.00" fill="none" stroke="#000" stroke-width="3" stroke-linejoin="round"/>
<circle cx="42.31" cy="340.10" r="2.95" fill="none" stroke="#000" stroke-width="2.0"/>
<circle cx="49.12" cy="368.40" r="2.95" fill="none" stroke="#000" stroke-width="2.0"/>
<circle cx="55.32" cy="394.37" r="2.95" fill="none" stroke="#000" stroke-width="2.0"/>
<circle cx="68.33" cy="423.50" r="2.95" fill="none" stroke="#000" stroke-width="2.0"/>
<circle cx="93.93" cy="453.32" r="2.95" fill="none" stroke="#000" stroke-width="2.0"/>
<circle cx="145.35" cy="465.55" r="2.95" fill="none" stroke="#000" stroke-width="2.0"/>
<circle cx="248.60" cy="472.00" r="2.95" fill="none" stroke="#000" stroke-width="2.0"/>
<line x1="153.00" y1="346.90" x2="174.20" y2="346.90" stroke="#000" stroke-width="3" />
<circle cx="163.6" cy="346.9" r="2.95" fill="none" stroke="#000" stroke-width="2.0"/>
<text x="177.20" y="351.20" font-size="11.8" font-weight="normal" text-anchor="start" fill="#000" textLength="66.00" lengthAdjust="spacingAndGlyphs" >MAb in NPP</text>
<text x="262.00" y="319.70" font-size="17" font-weight="bold" text-anchor="start" fill="#000" textLength="12.60" lengthAdjust="spacingAndGlyphs" >C</text>
<line x1="300.40" y1="331.60" x2="300.40" y2="479.50" stroke="#000" stroke-width="2.4" />
<line x1="294.90" y1="478.40" x2="520.00" y2="478.40" stroke="#000" stroke-width="2.4" />
<line x1="294.90" y1="478.40" x2="300.40" y2="478.40" stroke="#000" stroke-width="2.0" />
<text x="294.40" y="482.30" font-size="10.5" font-weight="bold" text-anchor="end" fill="#000" textLength="15.20" lengthAdjust="spacingAndGlyphs" >0.0</text>
<line x1="294.90" y1="460.17" x2="300.40" y2="460.17" stroke="#000" stroke-width="2.0" />
<text x="294.40" y="464.07" font-size="10.5" font-weight="bold" text-anchor="end" fill="#000" textLength="15.20" lengthAdjust="spacingAndGlyphs" >0.1</text>
<line x1="294.90" y1="441.95" x2="300.40" y2="441.95" stroke="#000" stroke-width="2.0" />
<text x="294.40" y="445.85" font-size="10.5" font-weight="bold" text-anchor="end" fill="#000" textLength="15.20" lengthAdjust="spacingAndGlyphs" >0.2</text>
<line x1="294.90" y1="423.72" x2="300.40" y2="423.72" stroke="#000" stroke-width="2.0" />
<text x="294.40" y="427.62" font-size="10.5" font-weight="bold" text-anchor="end" fill="#000" textLength="15.20" lengthAdjust="spacingAndGlyphs" >0.3</text>
<line x1="294.90" y1="405.50" x2="300.40" y2="405.50" stroke="#000" stroke-width="2.0" />
<text x="294.40" y="409.40" font-size="10.5" font-weight="bold" text-anchor="end" fill="#000" textLength="15.20" lengthAdjust="spacingAndGlyphs" >0.4</text>
<line x1="294.90" y1="387.27" x2="300.40" y2="387.27" stroke="#000" stroke-width="2.0" />
<text x="294.40" y="391.17" font-size="10.5" font-weight="bold" text-anchor="end" fill="#000" textLength="15.20" lengthAdjust="spacingAndGlyphs" >0.5</text>
<line x1="294.90" y1="369.05" x2="300.40" y2="369.05" stroke="#000" stroke-width="2.0" />
<text x="294.40" y="372.95" font-size="10.5" font-weight="bold" text-anchor="end" fill="#000" textLength="15.20" lengthAdjust="spacingAndGlyphs" >0.6</text>
<line x1="294.90" y1="350.82" x2="300.40" y2="350.82" stroke="#000" stroke-width="2.0" />
<text x="294.40" y="354.72" font-size="10.5" font-weight="bold" text-anchor="end" fill="#000" textLength="15.20" lengthAdjust="spacingAndGlyphs" >0.7</text>
<line x1="294.90" y1="332.60" x2="300.40" y2="332.60" stroke="#000" stroke-width="2.0" />
<text x="294.40" y="336.50" font-size="10.5" font-weight="bold" text-anchor="end" fill="#000" textLength="15.20" lengthAdjust="spacingAndGlyphs" >0.8</text>
<line x1="309.10" y1="478.40" x2="309.10" y2="483.40" stroke="#000" stroke-width="2.0" />
<text x="309.10" y="495.00" font-size="10.5" font-weight="bold" text-anchor="middle" fill="#000" >1</text>
<line x1="347.70" y1="478.40" x2="347.70" y2="483.40" stroke="#000" stroke-width="2.0" />
<text x="347.70" y="495.00" font-size="10.5" font-weight="bold" text-anchor="middle" fill="#000" >2</text>
<line x1="386.30" y1="478.40" x2="386.30" y2="483.40" stroke="#000" stroke-width="2.0" />
<text x="386.30" y="495.00" font-size="10.5" font-weight="bold" text-anchor="middle" fill="#000" >4</text>
<line x1="424.90" y1="478.40" x2="424.90" y2="483.40" stroke="#000" stroke-width="2.0" />
<text x="424.90" y="495.00" font-size="10.5" font-weight="bold" text-anchor="middle" fill="#000" >8</text>
<line x1="463.50" y1="478.40" x2="463.50" y2="483.40" stroke="#000" stroke-width="2.0" />
<text x="463.50" y="495.00" font-size="10.5" font-weight="bold" text-anchor="middle" fill="#000" >16</text>
<line x1="502.10" y1="478.40" x2="502.10" y2="483.40" stroke="#000" stroke-width="2.0" />
<text x="502.10" y="495.00" font-size="10.5" font-weight="bold" text-anchor="middle" fill="#000" >32</text>
<text x="273.20" y="406.00" font-size="12.3" font-weight="bold" text-anchor="middle" fill="#000" textLength="132.00" lengthAdjust="spacingAndGlyphs" transform="rotate(-90 273.20 406.00)" >Normalized PH/LT ratio</text>
<text x="410.60" y="510.00" font-size="11" font-weight="bold" text-anchor="middle" fill="#000" textLength="81.00" lengthAdjust="spacingAndGlyphs" >Dilution factor</text>
<polyline points="347.70,468.01 386.30,451.79 424.90,431.20 475.93,387.27" fill="none" stroke="#000" stroke-width="3"/>
<polyline points="347.70,464.18 386.30,436.85 424.90,398.94 475.93,351.55" fill="none" stroke="#000" stroke-width="3"/>
<polyline points="309.10,469.29 347.70,456.53 386.30,431.38 437.33,392.01 475.93,363.40 514.53,345.54" fill="none" stroke="#000" stroke-width="3" stroke-dasharray="6.2,3"/>
<circle cx="309.10" cy="469.29" r="2.95" fill="none" stroke="#000" stroke-width="2.0"/>
<circle cx="347.70" cy="456.53" r="2.95" fill="none" stroke="#000" stroke-width="2.0"/>
<circle cx="386.30" cy="431.38" r="2.95" fill="none" stroke="#000" stroke-width="2.0"/>
<circle cx="437.33" cy="392.01" r="2.95" fill="none" stroke="#000" stroke-width="2.0"/>
<circle cx="475.93" cy="363.40" r="2.95" fill="none" stroke="#000" stroke-width="2.0"/>
<circle cx="514.53" cy="345.54" r="2.95" fill="none" stroke="#000" stroke-width="2.0"/>
<rect x="345.00" y="465.31" width="5.4" height="5.4" fill="none" stroke="#000" stroke-width="1.9"/>
<rect x="383.60" y="449.09" width="5.4" height="5.4" fill="none" stroke="#000" stroke-width="1.9"/>
<rect x="422.20" y="428.50" width="5.4" height="5.4" fill="none" stroke="#000" stroke-width="1.9"/>
<rect x="473.23" y="384.57" width="5.4" height="5.4" fill="none" stroke="#000" stroke-width="1.9"/>
<circle cx="347.70" cy="464.18" r="3.4" fill="#000"/>
<circle cx="386.30" cy="436.85" r="3.4" fill="#000"/>
<circle cx="424.90" cy="398.94" r="3.4" fill="#000"/>
<circle cx="475.93" cy="351.55" r="3.4" fill="#000"/>
<line x1="316.10" y1="341.50" x2="335.00" y2="341.50" stroke="#000" stroke-width="3" />
<circle cx="326.6" cy="341.5" r="2.75" fill="#fff" stroke="#000" stroke-width="1.8"/>
<line x1="325.40" y1="341.50" x2="327.80" y2="341.50" stroke="#000" stroke-width="1.2" />
<text x="340.60" y="344.90" font-size="11.8" font-weight="normal" text-anchor="start" fill="#000" textLength="66.00" lengthAdjust="spacingAndGlyphs" >MAb in NPP</text>
<line x1="316.10" y1="361.60" x2="337.60" y2="361.60" stroke="#000" stroke-width="3" />
<rect x="323.70000000000005" y="358.70000000000005" width="5.8" height="5.8" fill="#fff" stroke="#000" stroke-width="1.9"/>
<line x1="325.10" y1="361.60" x2="328.10" y2="361.60" stroke="#000" stroke-width="1.0" />
<text x="340.60" y="364.90" font-size="11.8" font-weight="normal" text-anchor="start" fill="#000" textLength="88.50" lengthAdjust="spacingAndGlyphs" >Plasma patient 1</text>
<line x1="316.10" y1="378.80" x2="337.60" y2="378.80" stroke="#000" stroke-width="3" />
<circle cx="326.6" cy="378.8" r="3.5" fill="#000"/>
<text x="340.60" y="382.10" font-size="11.8" font-weight="normal" text-anchor="start" fill="#000" textLength="89.50" lengthAdjust="spacingAndGlyphs" >Plasma patient 2</text>
</svg>
</body></html>
